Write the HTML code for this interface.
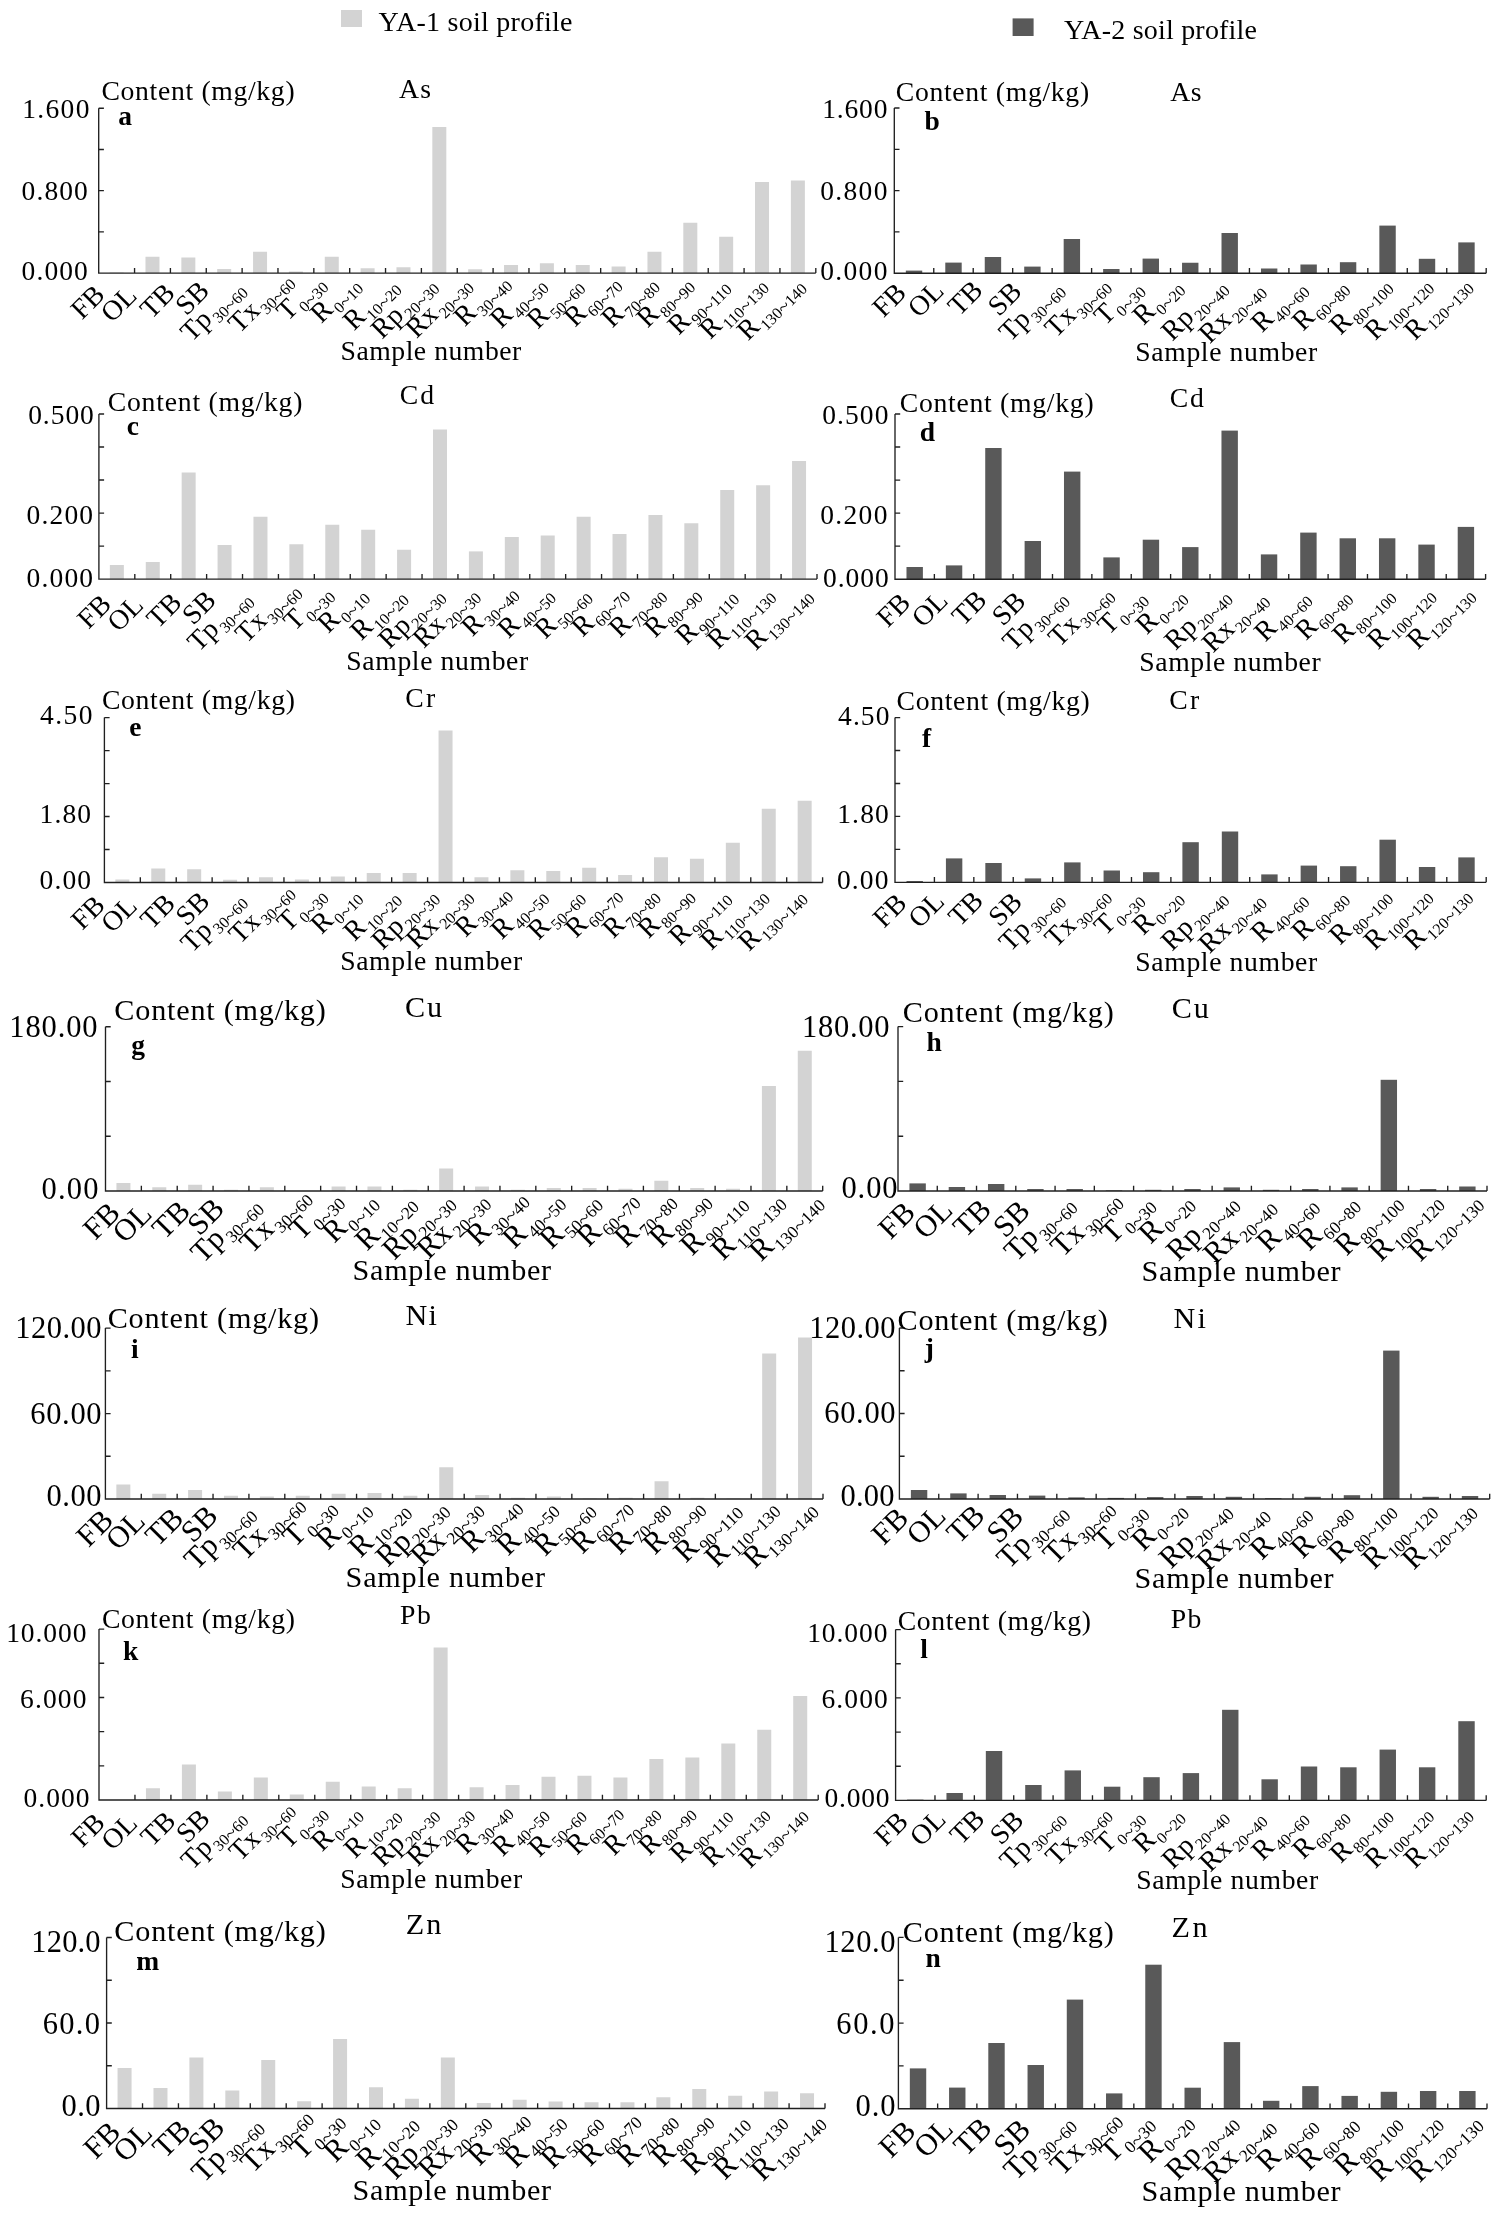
<!DOCTYPE html>
<html><head><meta charset="utf-8"><style>
html,body{margin:0;padding:0;background:#fff;}
svg{display:block;will-change:transform;}
text{font-family:"Liberation Serif", serif;fill:#000;}
</style></head><body>
<svg width="1499" height="2218" viewBox="0 0 1499 2218">
<rect width="1499" height="2218" fill="#fff"/>
<rect x="341" y="10" width="21" height="17" fill="#d3d3d3"/>
<text x="378.5" y="31" font-size="28" textLength="194" lengthAdjust="spacing">YA-1 soil profile</text>
<rect x="1012.6" y="18.4" width="21" height="17.6" fill="#595959"/>
<text x="1064" y="39" font-size="28" textLength="193" lengthAdjust="spacing">YA-2 soil profile</text>
<rect x="109.63" y="272.5" width="14" height="0.6" fill="#d3d3d3"/>
<rect x="145.48" y="256.75" width="14" height="16.35" fill="#d3d3d3"/>
<rect x="181.34" y="257.5" width="14" height="15.6" fill="#d3d3d3"/>
<rect x="217.19" y="269" width="14" height="4.1" fill="#d3d3d3"/>
<rect x="253.05" y="251.75" width="14" height="21.35" fill="#d3d3d3"/>
<rect x="288.9" y="271.5" width="14" height="1.6" fill="#d3d3d3"/>
<rect x="324.76" y="256.75" width="14" height="16.35" fill="#d3d3d3"/>
<rect x="360.61" y="268.25" width="14" height="4.85" fill="#d3d3d3"/>
<rect x="396.47" y="267.25" width="14" height="5.85" fill="#d3d3d3"/>
<rect x="432.32" y="127" width="14" height="146.1" fill="#d3d3d3"/>
<rect x="468.18" y="269.25" width="14" height="3.85" fill="#d3d3d3"/>
<rect x="504.03" y="265" width="14" height="8.1" fill="#d3d3d3"/>
<rect x="539.89" y="263.25" width="14" height="9.85" fill="#d3d3d3"/>
<rect x="575.74" y="265" width="14" height="8.1" fill="#d3d3d3"/>
<rect x="611.6" y="266.5" width="14" height="6.6" fill="#d3d3d3"/>
<rect x="647.45" y="251.75" width="14" height="21.35" fill="#d3d3d3"/>
<rect x="683.31" y="222.75" width="14" height="50.35" fill="#d3d3d3"/>
<rect x="719.16" y="236.75" width="14" height="36.35" fill="#d3d3d3"/>
<rect x="755.02" y="182" width="14" height="91.1" fill="#d3d3d3"/>
<rect x="790.87" y="180.5" width="14" height="92.6" fill="#d3d3d3"/>
<path d="M98.7 108.25V273.1H815.8M98.7 273.1h5.2M98.7 231.89h5.2M98.7 190.68h5.2M98.7 149.46h5.2M98.7 108.25h5.2M134.56 273.1v-5.2M170.41 273.1v-5.2M206.26 273.1v-5.2M242.12 273.1v-5.2M277.97 273.1v-5.2M313.83 273.1v-5.2M349.69 273.1v-5.2M385.54 273.1v-5.2M421.39 273.1v-5.2M457.25 273.1v-5.2M493.1 273.1v-5.2M528.96 273.1v-5.2M564.81 273.1v-5.2M600.67 273.1v-5.2M636.52 273.1v-5.2M672.38 273.1v-5.2M708.24 273.1v-5.2M744.09 273.1v-5.2M779.94 273.1v-5.2M815.8 273.1v-5.2" stroke="#202020" stroke-width="1.35" fill="none"/>
<text x="22.18" y="118" font-size="27.5" textLength="67.26" lengthAdjust="spacing">1.600</text>
<text x="21.55" y="200" font-size="27.5" textLength="66.29" lengthAdjust="spacing">0.800</text>
<text x="21.55" y="280" font-size="27.5" textLength="66.29" lengthAdjust="spacing">0.000</text>
<text x="101.46" y="100" font-size="27.7" textLength="193.15" lengthAdjust="spacing">Content (mg/kg)</text>
<text x="398.93" y="98" font-size="27.7" textLength="32.07" lengthAdjust="spacing">As</text>
<text x="118.31" y="125" font-size="27.5" font-weight="bold">a</text>
<text x="340.45" y="359.7" font-size="27.7" textLength="180.9" lengthAdjust="spacing">Sample number</text>
<text class="xl" transform="translate(106.23 296.3) rotate(-45)" text-anchor="end" font-size="28">FB</text>
<text class="xl" transform="translate(138.38 297.1) rotate(-45)" text-anchor="end" font-size="28">OL</text>
<text class="xl" transform="translate(176.54 294.6) rotate(-45)" text-anchor="end" font-size="28">TB</text>
<text class="xl" transform="translate(210.79 292.3) rotate(-45)" text-anchor="end" font-size="28">SB</text>
<text class="xl" transform="translate(244.85 289.5) rotate(-45)" text-anchor="end" font-size="28">Tp<tspan font-size="16" dx="1.8" dy="6">30</tspan><tspan font-size="19.5" dy="1.1">~</tspan><tspan font-size="16" dy="-1.1">60</tspan></text>
<text class="xl" transform="translate(292.7 280.8) rotate(-45)" text-anchor="end" font-size="28">Tx<tspan font-size="16" dx="1.8" dy="6">30</tspan><tspan font-size="19.5" dy="1.1">~</tspan><tspan font-size="16" dy="-1.1">60</tspan></text>
<text class="xl" transform="translate(325.36 284.2) rotate(-45)" text-anchor="end" font-size="28">T<tspan font-size="16" dx="1.8" dy="6">0</tspan><tspan font-size="19.5" dy="1.1">~</tspan><tspan font-size="16" dy="-1.1">30</tspan></text>
<text class="xl" transform="translate(360.11 285.4) rotate(-45)" text-anchor="end" font-size="28">R<tspan font-size="16" dx="1.8" dy="6">0</tspan><tspan font-size="19.5" dy="1.1">~</tspan><tspan font-size="16" dy="-1.1">10</tspan></text>
<text class="xl" transform="translate(398.67 286.8) rotate(-45)" text-anchor="end" font-size="28">R<tspan font-size="16" dx="1.8" dy="6">10</tspan><tspan font-size="19.5" dy="1.1">~</tspan><tspan font-size="16" dy="-1.1">20</tspan></text>
<text class="xl" transform="translate(436.52 285.5) rotate(-45)" text-anchor="end" font-size="28">Rp<tspan font-size="16" dx="1.8" dy="6">20</tspan><tspan font-size="19.5" dy="1.1">~</tspan><tspan font-size="16" dy="-1.1">30</tspan></text>
<text class="xl" transform="translate(470.98 284.8) rotate(-45)" text-anchor="end" font-size="28">Rx<tspan font-size="16" dx="1.8" dy="6">20</tspan><tspan font-size="19.5" dy="1.1">~</tspan><tspan font-size="16" dy="-1.1">30</tspan></text>
<text class="xl" transform="translate(509.43 282.8) rotate(-45)" text-anchor="end" font-size="28">R<tspan font-size="16" dx="1.8" dy="6">30</tspan><tspan font-size="19.5" dy="1.1">~</tspan><tspan font-size="16" dy="-1.1">40</tspan></text>
<text class="xl" transform="translate(545.69 284.9) rotate(-45)" text-anchor="end" font-size="28">R<tspan font-size="16" dx="1.8" dy="6">40</tspan><tspan font-size="19.5" dy="1.1">~</tspan><tspan font-size="16" dy="-1.1">50</tspan></text>
<text class="xl" transform="translate(582.44 285.5) rotate(-45)" text-anchor="end" font-size="28">R<tspan font-size="16" dx="1.8" dy="6">50</tspan><tspan font-size="19.5" dy="1.1">~</tspan><tspan font-size="16" dy="-1.1">60</tspan></text>
<text class="xl" transform="translate(619.7 283.4) rotate(-45)" text-anchor="end" font-size="28">R<tspan font-size="16" dx="1.8" dy="6">60</tspan><tspan font-size="19.5" dy="1.1">~</tspan><tspan font-size="16" dy="-1.1">70</tspan></text>
<text class="xl" transform="translate(656.95 284.1) rotate(-45)" text-anchor="end" font-size="28">R<tspan font-size="16" dx="1.8" dy="6">70</tspan><tspan font-size="19.5" dy="1.1">~</tspan><tspan font-size="16" dy="-1.1">80</tspan></text>
<text class="xl" transform="translate(692.11 284.1) rotate(-45)" text-anchor="end" font-size="28">R<tspan font-size="16" dx="1.8" dy="6">80</tspan><tspan font-size="19.5" dy="1.1">~</tspan><tspan font-size="16" dy="-1.1">90</tspan></text>
<text class="xl" transform="translate(728.66 286.1) rotate(-45)" text-anchor="end" font-size="28">R<tspan font-size="16" dx="1.8" dy="6">90</tspan><tspan font-size="19.5" dy="1.1">~</tspan><tspan font-size="16" dy="-1.1">110</tspan></text>
<text class="xl" transform="translate(765.82 284.8) rotate(-45)" text-anchor="end" font-size="28">R<tspan font-size="16" dx="1.8" dy="6">110</tspan><tspan font-size="19.5" dy="1.1">~</tspan><tspan font-size="16" dy="-1.1">130</tspan></text>
<text class="xl" transform="translate(803.87 285.5) rotate(-45)" text-anchor="end" font-size="28">R<tspan font-size="16" dx="1.8" dy="6">130</tspan><tspan font-size="19.5" dy="1.1">~</tspan><tspan font-size="16" dy="-1.1">140</tspan></text>
<rect x="905.83" y="270.6" width="16.4" height="2.6" fill="#595959"/>
<rect x="945.29" y="262.6" width="16.4" height="10.6" fill="#595959"/>
<rect x="984.75" y="257" width="16.4" height="16.2" fill="#595959"/>
<rect x="1024.21" y="266.6" width="16.4" height="6.6" fill="#595959"/>
<rect x="1063.67" y="239" width="16.4" height="34.2" fill="#595959"/>
<rect x="1103.13" y="269" width="16.4" height="4.2" fill="#595959"/>
<rect x="1142.59" y="258.6" width="16.4" height="14.6" fill="#595959"/>
<rect x="1182.05" y="262.75" width="16.4" height="10.45" fill="#595959"/>
<rect x="1221.51" y="233" width="16.4" height="40.2" fill="#595959"/>
<rect x="1260.97" y="268.5" width="16.4" height="4.7" fill="#595959"/>
<rect x="1300.43" y="264.5" width="16.4" height="8.7" fill="#595959"/>
<rect x="1339.89" y="262.2" width="16.4" height="11" fill="#595959"/>
<rect x="1379.35" y="225.6" width="16.4" height="47.6" fill="#595959"/>
<rect x="1418.81" y="258.8" width="16.4" height="14.4" fill="#595959"/>
<rect x="1458.27" y="242.4" width="16.4" height="30.8" fill="#595959"/>
<path d="M894.3 108V273.2H1486.2M894.3 273.2h5.2M894.3 231.9h5.2M894.3 190.6h5.2M894.3 149.3h5.2M894.3 108h5.2M933.76 273.2v-5.2M973.22 273.2v-5.2M1012.68 273.2v-5.2M1052.14 273.2v-5.2M1091.6 273.2v-5.2M1131.06 273.2v-5.2M1170.52 273.2v-5.2M1209.98 273.2v-5.2M1249.44 273.2v-5.2M1288.9 273.2v-5.2M1328.36 273.2v-5.2M1367.82 273.2v-5.2M1407.28 273.2v-5.2M1446.74 273.2v-5.2M1486.2 273.2v-5.2" stroke="#202020" stroke-width="1.35" fill="none"/>
<text x="822.18" y="118" font-size="27.5" textLength="65.26" lengthAdjust="spacing">1.600</text>
<text x="820.15" y="200" font-size="27.5" textLength="67.29" lengthAdjust="spacing">0.800</text>
<text x="820.15" y="280" font-size="27.5" textLength="67.29" lengthAdjust="spacing">0.000</text>
<text x="895.76" y="100.7" font-size="27.7" textLength="193.35" lengthAdjust="spacing">Content (mg/kg)</text>
<text x="1170.23" y="100.7" font-size="27.7" textLength="31.37" lengthAdjust="spacing">As</text>
<text x="924.55" y="130" font-size="27.5" font-weight="bold">b</text>
<text x="1135.35" y="361" font-size="27.7" textLength="181.9" lengthAdjust="spacing">Sample number</text>
<text class="xl" transform="translate(907.63 294.4) rotate(-45)" text-anchor="end" font-size="28">FB</text>
<text class="xl" transform="translate(945.29 292.3) rotate(-45)" text-anchor="end" font-size="28">OL</text>
<text class="xl" transform="translate(984.25 291.8) rotate(-45)" text-anchor="end" font-size="28">TB</text>
<text class="xl" transform="translate(1023.21 293) rotate(-45)" text-anchor="end" font-size="28">SB</text>
<text class="xl" transform="translate(1063.27 289.3) rotate(-45)" text-anchor="end" font-size="28">Tp<tspan font-size="16" dx="1.8" dy="6">30</tspan><tspan font-size="19.5" dy="1.1">~</tspan><tspan font-size="16" dy="-1.1">60</tspan></text>
<text class="xl" transform="translate(1109.13 285.3) rotate(-45)" text-anchor="end" font-size="28">Tx<tspan font-size="16" dx="1.8" dy="6">30</tspan><tspan font-size="19.5" dy="1.1">~</tspan><tspan font-size="16" dy="-1.1">60</tspan></text>
<text class="xl" transform="translate(1142.79 288.8) rotate(-45)" text-anchor="end" font-size="28">T<tspan font-size="16" dx="1.8" dy="6">0</tspan><tspan font-size="19.5" dy="1.1">~</tspan><tspan font-size="16" dy="-1.1">30</tspan></text>
<text class="xl" transform="translate(1182.35 287.3) rotate(-45)" text-anchor="end" font-size="28">R<tspan font-size="16" dx="1.8" dy="6">0</tspan><tspan font-size="19.5" dy="1.1">~</tspan><tspan font-size="16" dy="-1.1">20</tspan></text>
<text class="xl" transform="translate(1226.71 287.4) rotate(-45)" text-anchor="end" font-size="28">Rp<tspan font-size="16" dx="1.8" dy="6">20</tspan><tspan font-size="19.5" dy="1.1">~</tspan><tspan font-size="16" dy="-1.1">40</tspan></text>
<text class="xl" transform="translate(1264.27 290) rotate(-45)" text-anchor="end" font-size="28">Rx<tspan font-size="16" dx="1.8" dy="6">20</tspan><tspan font-size="19.5" dy="1.1">~</tspan><tspan font-size="16" dy="-1.1">40</tspan></text>
<text class="xl" transform="translate(1306.63 288.8) rotate(-45)" text-anchor="end" font-size="28">R<tspan font-size="16" dx="1.8" dy="6">40</tspan><tspan font-size="19.5" dy="1.1">~</tspan><tspan font-size="16" dy="-1.1">60</tspan></text>
<text class="xl" transform="translate(1347.49 287.3) rotate(-45)" text-anchor="end" font-size="28">R<tspan font-size="16" dx="1.8" dy="6">60</tspan><tspan font-size="19.5" dy="1.1">~</tspan><tspan font-size="16" dy="-1.1">80</tspan></text>
<text class="xl" transform="translate(1390.65 285.7) rotate(-45)" text-anchor="end" font-size="28">R<tspan font-size="16" dx="1.8" dy="6">80</tspan><tspan font-size="19.5" dy="1.1">~</tspan><tspan font-size="16" dy="-1.1">100</tspan></text>
<text class="xl" transform="translate(1431.11 285.3) rotate(-45)" text-anchor="end" font-size="28">R<tspan font-size="16" dx="1.8" dy="6">100</tspan><tspan font-size="19.5" dy="1.1">~</tspan><tspan font-size="16" dy="-1.1">120</tspan></text>
<text class="xl" transform="translate(1470.87 285.3) rotate(-45)" text-anchor="end" font-size="28">R<tspan font-size="16" dx="1.8" dy="6">120</tspan><tspan font-size="19.5" dy="1.1">~</tspan><tspan font-size="16" dy="-1.1">130</tspan></text>
<rect x="109.85" y="565" width="14" height="14.1" fill="#d3d3d3"/>
<rect x="145.76" y="562" width="14" height="17.1" fill="#d3d3d3"/>
<rect x="181.66" y="472.5" width="14" height="106.6" fill="#d3d3d3"/>
<rect x="217.57" y="545" width="14" height="34.1" fill="#d3d3d3"/>
<rect x="253.47" y="516.75" width="14" height="62.35" fill="#d3d3d3"/>
<rect x="289.38" y="544.25" width="14" height="34.85" fill="#d3d3d3"/>
<rect x="325.28" y="524.75" width="14" height="54.35" fill="#d3d3d3"/>
<rect x="361.19" y="529.75" width="14" height="49.35" fill="#d3d3d3"/>
<rect x="397.09" y="549.75" width="14" height="29.35" fill="#d3d3d3"/>
<rect x="433" y="429.5" width="14" height="149.6" fill="#d3d3d3"/>
<rect x="468.9" y="551.4" width="14" height="27.7" fill="#d3d3d3"/>
<rect x="504.81" y="537" width="14" height="42.1" fill="#d3d3d3"/>
<rect x="540.71" y="535.5" width="14" height="43.6" fill="#d3d3d3"/>
<rect x="576.62" y="516.75" width="14" height="62.35" fill="#d3d3d3"/>
<rect x="612.52" y="534" width="14" height="45.1" fill="#d3d3d3"/>
<rect x="648.43" y="515" width="14" height="64.1" fill="#d3d3d3"/>
<rect x="684.33" y="523.25" width="14" height="55.85" fill="#d3d3d3"/>
<rect x="720.24" y="490" width="14" height="89.1" fill="#d3d3d3"/>
<rect x="756.14" y="485.25" width="14" height="93.85" fill="#d3d3d3"/>
<rect x="792.05" y="461" width="14" height="118.1" fill="#d3d3d3"/>
<path d="M98.9 414V579.1H817M98.9 579.1h5.2M98.9 546.08h5.2M98.9 513.06h5.2M98.9 480.04h5.2M98.9 447.02h5.2M98.9 414h5.2M134.81 579.1v-5.2M170.71 579.1v-5.2M206.62 579.1v-5.2M242.52 579.1v-5.2M278.43 579.1v-5.2M314.33 579.1v-5.2M350.24 579.1v-5.2M386.14 579.1v-5.2M422.04 579.1v-5.2M457.95 579.1v-5.2M493.86 579.1v-5.2M529.76 579.1v-5.2M565.66 579.1v-5.2M601.57 579.1v-5.2M637.48 579.1v-5.2M673.38 579.1v-5.2M709.28 579.1v-5.2M745.19 579.1v-5.2M781.1 579.1v-5.2M817 579.1v-5.2" stroke="#202020" stroke-width="1.35" fill="none"/>
<text x="28.15" y="424" font-size="27.5" textLength="65.69" lengthAdjust="spacing">0.500</text>
<text x="26.55" y="524" font-size="27.5" textLength="66.49" lengthAdjust="spacing">0.200</text>
<text x="26.55" y="587" font-size="27.5" textLength="66.49" lengthAdjust="spacing">0.000</text>
<text x="107.76" y="410.7" font-size="27.7" textLength="194.65" lengthAdjust="spacing">Content (mg/kg)</text>
<text x="399.76" y="403.5" font-size="27.7" textLength="34.27" lengthAdjust="spacing">Cd</text>
<text x="126.66" y="434.7" font-size="27.5" font-weight="bold">c</text>
<text x="346.35" y="670" font-size="27.7" textLength="181.9" lengthAdjust="spacing">Sample number</text>
<text class="xl" transform="translate(112.75 605.8) rotate(-45)" text-anchor="end" font-size="28">FB</text>
<text class="xl" transform="translate(144.96 606.6) rotate(-45)" text-anchor="end" font-size="28">OL</text>
<text class="xl" transform="translate(183.16 604.1) rotate(-45)" text-anchor="end" font-size="28">TB</text>
<text class="xl" transform="translate(217.47 601.8) rotate(-45)" text-anchor="end" font-size="28">SB</text>
<text class="xl" transform="translate(251.77 599.5) rotate(-45)" text-anchor="end" font-size="28">Tp<tspan font-size="16" dx="1.8" dy="6">30</tspan><tspan font-size="19.5" dy="1.1">~</tspan><tspan font-size="16" dy="-1.1">60</tspan></text>
<text class="xl" transform="translate(299.68 590.8) rotate(-45)" text-anchor="end" font-size="28">Tx<tspan font-size="16" dx="1.8" dy="6">30</tspan><tspan font-size="19.5" dy="1.1">~</tspan><tspan font-size="16" dy="-1.1">60</tspan></text>
<text class="xl" transform="translate(332.38 594.2) rotate(-45)" text-anchor="end" font-size="28">T<tspan font-size="16" dx="1.8" dy="6">0</tspan><tspan font-size="19.5" dy="1.1">~</tspan><tspan font-size="16" dy="-1.1">30</tspan></text>
<text class="xl" transform="translate(367.19 595.4) rotate(-45)" text-anchor="end" font-size="28">R<tspan font-size="16" dx="1.8" dy="6">0</tspan><tspan font-size="19.5" dy="1.1">~</tspan><tspan font-size="16" dy="-1.1">10</tspan></text>
<text class="xl" transform="translate(405.79 596.8) rotate(-45)" text-anchor="end" font-size="28">R<tspan font-size="16" dx="1.8" dy="6">10</tspan><tspan font-size="19.5" dy="1.1">~</tspan><tspan font-size="16" dy="-1.1">20</tspan></text>
<text class="xl" transform="translate(443.7 595.5) rotate(-45)" text-anchor="end" font-size="28">Rp<tspan font-size="16" dx="1.8" dy="6">20</tspan><tspan font-size="19.5" dy="1.1">~</tspan><tspan font-size="16" dy="-1.1">30</tspan></text>
<text class="xl" transform="translate(478.2 594.8) rotate(-45)" text-anchor="end" font-size="28">Rx<tspan font-size="16" dx="1.8" dy="6">20</tspan><tspan font-size="19.5" dy="1.1">~</tspan><tspan font-size="16" dy="-1.1">30</tspan></text>
<text class="xl" transform="translate(516.71 592.8) rotate(-45)" text-anchor="end" font-size="28">R<tspan font-size="16" dx="1.8" dy="6">30</tspan><tspan font-size="19.5" dy="1.1">~</tspan><tspan font-size="16" dy="-1.1">40</tspan></text>
<text class="xl" transform="translate(553.01 594.9) rotate(-45)" text-anchor="end" font-size="28">R<tspan font-size="16" dx="1.8" dy="6">40</tspan><tspan font-size="19.5" dy="1.1">~</tspan><tspan font-size="16" dy="-1.1">50</tspan></text>
<text class="xl" transform="translate(589.82 595.5) rotate(-45)" text-anchor="end" font-size="28">R<tspan font-size="16" dx="1.8" dy="6">50</tspan><tspan font-size="19.5" dy="1.1">~</tspan><tspan font-size="16" dy="-1.1">60</tspan></text>
<text class="xl" transform="translate(627.12 593.4) rotate(-45)" text-anchor="end" font-size="28">R<tspan font-size="16" dx="1.8" dy="6">60</tspan><tspan font-size="19.5" dy="1.1">~</tspan><tspan font-size="16" dy="-1.1">70</tspan></text>
<text class="xl" transform="translate(664.43 594.1) rotate(-45)" text-anchor="end" font-size="28">R<tspan font-size="16" dx="1.8" dy="6">70</tspan><tspan font-size="19.5" dy="1.1">~</tspan><tspan font-size="16" dy="-1.1">80</tspan></text>
<text class="xl" transform="translate(699.63 594.1) rotate(-45)" text-anchor="end" font-size="28">R<tspan font-size="16" dx="1.8" dy="6">80</tspan><tspan font-size="19.5" dy="1.1">~</tspan><tspan font-size="16" dy="-1.1">90</tspan></text>
<text class="xl" transform="translate(736.24 596.1) rotate(-45)" text-anchor="end" font-size="28">R<tspan font-size="16" dx="1.8" dy="6">90</tspan><tspan font-size="19.5" dy="1.1">~</tspan><tspan font-size="16" dy="-1.1">110</tspan></text>
<text class="xl" transform="translate(773.44 594.8) rotate(-45)" text-anchor="end" font-size="28">R<tspan font-size="16" dx="1.8" dy="6">110</tspan><tspan font-size="19.5" dy="1.1">~</tspan><tspan font-size="16" dy="-1.1">130</tspan></text>
<text class="xl" transform="translate(811.55 595.5) rotate(-45)" text-anchor="end" font-size="28">R<tspan font-size="16" dx="1.8" dy="6">130</tspan><tspan font-size="19.5" dy="1.1">~</tspan><tspan font-size="16" dy="-1.1">140</tspan></text>
<rect x="906.49" y="567" width="16.4" height="12.2" fill="#595959"/>
<rect x="945.86" y="565.4" width="16.4" height="13.8" fill="#595959"/>
<rect x="985.23" y="448" width="16.4" height="131.2" fill="#595959"/>
<rect x="1024.61" y="541" width="16.4" height="38.2" fill="#595959"/>
<rect x="1063.98" y="471.6" width="16.4" height="107.6" fill="#595959"/>
<rect x="1103.35" y="557.4" width="16.4" height="21.8" fill="#595959"/>
<rect x="1142.73" y="539.7" width="16.4" height="39.5" fill="#595959"/>
<rect x="1182.1" y="547.1" width="16.4" height="32.1" fill="#595959"/>
<rect x="1221.47" y="430.6" width="16.4" height="148.6" fill="#595959"/>
<rect x="1260.85" y="554.4" width="16.4" height="24.8" fill="#595959"/>
<rect x="1300.22" y="532.6" width="16.4" height="46.6" fill="#595959"/>
<rect x="1339.59" y="538.3" width="16.4" height="40.9" fill="#595959"/>
<rect x="1378.97" y="538.3" width="16.4" height="40.9" fill="#595959"/>
<rect x="1418.34" y="544.6" width="16.4" height="34.6" fill="#595959"/>
<rect x="1457.71" y="526.9" width="16.4" height="52.3" fill="#595959"/>
<path d="M895 414V579.2H1485.6M895 579.2h5.2M895 546.16h5.2M895 513.12h5.2M895 480.08h5.2M895 447.04h5.2M895 414h5.2M934.37 579.2v-5.2M973.75 579.2v-5.2M1013.12 579.2v-5.2M1052.49 579.2v-5.2M1091.87 579.2v-5.2M1131.24 579.2v-5.2M1170.61 579.2v-5.2M1209.99 579.2v-5.2M1249.36 579.2v-5.2M1288.73 579.2v-5.2M1328.11 579.2v-5.2M1367.48 579.2v-5.2M1406.85 579.2v-5.2M1446.23 579.2v-5.2M1485.6 579.2v-5.2" stroke="#202020" stroke-width="1.35" fill="none"/>
<text x="822.15" y="424" font-size="27.5" textLength="66.29" lengthAdjust="spacing">0.500</text>
<text x="820.15" y="524" font-size="27.5" textLength="67.29" lengthAdjust="spacing">0.200</text>
<text x="822.95" y="587" font-size="27.5" textLength="65.89" lengthAdjust="spacing">0.000</text>
<text x="899.76" y="412" font-size="27.7" textLength="193.85" lengthAdjust="spacing">Content (mg/kg)</text>
<text x="1169.66" y="406.7" font-size="27.7" textLength="34.27" lengthAdjust="spacing">Cd</text>
<text x="919.79" y="440.8" font-size="27.5" font-weight="bold">d</text>
<text x="1139.35" y="671" font-size="27.7" textLength="181.3" lengthAdjust="spacing">Sample number</text>
<text class="xl" transform="translate(911.89 604.2) rotate(-45)" text-anchor="end" font-size="28">FB</text>
<text class="xl" transform="translate(949.46 602.1) rotate(-45)" text-anchor="end" font-size="28">OL</text>
<text class="xl" transform="translate(988.33 601.6) rotate(-45)" text-anchor="end" font-size="28">TB</text>
<text class="xl" transform="translate(1027.21 602.8) rotate(-45)" text-anchor="end" font-size="28">SB</text>
<text class="xl" transform="translate(1066.88 598.6) rotate(-45)" text-anchor="end" font-size="28">Tp<tspan font-size="16" dx="1.8" dy="6">30</tspan><tspan font-size="19.5" dy="1.1">~</tspan><tspan font-size="16" dy="-1.1">60</tspan></text>
<text class="xl" transform="translate(1112.65 594.6) rotate(-45)" text-anchor="end" font-size="28">Tx<tspan font-size="16" dx="1.8" dy="6">30</tspan><tspan font-size="19.5" dy="1.1">~</tspan><tspan font-size="16" dy="-1.1">60</tspan></text>
<text class="xl" transform="translate(1146.23 598.1) rotate(-45)" text-anchor="end" font-size="28">T<tspan font-size="16" dx="1.8" dy="6">0</tspan><tspan font-size="19.5" dy="1.1">~</tspan><tspan font-size="16" dy="-1.1">30</tspan></text>
<text class="xl" transform="translate(1185.7 596.6) rotate(-45)" text-anchor="end" font-size="28">R<tspan font-size="16" dx="1.8" dy="6">0</tspan><tspan font-size="19.5" dy="1.1">~</tspan><tspan font-size="16" dy="-1.1">20</tspan></text>
<text class="xl" transform="translate(1229.97 596.7) rotate(-45)" text-anchor="end" font-size="28">Rp<tspan font-size="16" dx="1.8" dy="6">20</tspan><tspan font-size="19.5" dy="1.1">~</tspan><tspan font-size="16" dy="-1.1">40</tspan></text>
<text class="xl" transform="translate(1267.45 599.3) rotate(-45)" text-anchor="end" font-size="28">Rx<tspan font-size="16" dx="1.8" dy="6">20</tspan><tspan font-size="19.5" dy="1.1">~</tspan><tspan font-size="16" dy="-1.1">40</tspan></text>
<text class="xl" transform="translate(1309.72 598.1) rotate(-45)" text-anchor="end" font-size="28">R<tspan font-size="16" dx="1.8" dy="6">40</tspan><tspan font-size="19.5" dy="1.1">~</tspan><tspan font-size="16" dy="-1.1">60</tspan></text>
<text class="xl" transform="translate(1350.49 596.6) rotate(-45)" text-anchor="end" font-size="28">R<tspan font-size="16" dx="1.8" dy="6">60</tspan><tspan font-size="19.5" dy="1.1">~</tspan><tspan font-size="16" dy="-1.1">80</tspan></text>
<text class="xl" transform="translate(1393.57 595) rotate(-45)" text-anchor="end" font-size="28">R<tspan font-size="16" dx="1.8" dy="6">80</tspan><tspan font-size="19.5" dy="1.1">~</tspan><tspan font-size="16" dy="-1.1">100</tspan></text>
<text class="xl" transform="translate(1433.94 594.6) rotate(-45)" text-anchor="end" font-size="28">R<tspan font-size="16" dx="1.8" dy="6">100</tspan><tspan font-size="19.5" dy="1.1">~</tspan><tspan font-size="16" dy="-1.1">120</tspan></text>
<text class="xl" transform="translate(1473.61 594.6) rotate(-45)" text-anchor="end" font-size="28">R<tspan font-size="16" dx="1.8" dy="6">120</tspan><tspan font-size="19.5" dy="1.1">~</tspan><tspan font-size="16" dy="-1.1">130</tspan></text>
<rect x="115.36" y="879.5" width="14" height="3" fill="#d3d3d3"/>
<rect x="151.27" y="868.5" width="14" height="14" fill="#d3d3d3"/>
<rect x="187.18" y="869.25" width="14" height="13.25" fill="#d3d3d3"/>
<rect x="223.09" y="879.75" width="14" height="2.75" fill="#d3d3d3"/>
<rect x="259" y="877.25" width="14" height="5.25" fill="#d3d3d3"/>
<rect x="294.91" y="879.5" width="14" height="3" fill="#d3d3d3"/>
<rect x="330.82" y="876.5" width="14" height="6" fill="#d3d3d3"/>
<rect x="366.73" y="873" width="14" height="9.5" fill="#d3d3d3"/>
<rect x="402.63" y="873" width="14" height="9.5" fill="#d3d3d3"/>
<rect x="438.55" y="730.5" width="14" height="152" fill="#d3d3d3"/>
<rect x="474.46" y="877.25" width="14" height="5.25" fill="#d3d3d3"/>
<rect x="510.37" y="870.25" width="14" height="12.25" fill="#d3d3d3"/>
<rect x="546.28" y="871" width="14" height="11.5" fill="#d3d3d3"/>
<rect x="582.19" y="867.75" width="14" height="14.75" fill="#d3d3d3"/>
<rect x="618.1" y="875" width="14" height="7.5" fill="#d3d3d3"/>
<rect x="654" y="857.25" width="14" height="25.25" fill="#d3d3d3"/>
<rect x="689.92" y="858.75" width="14" height="23.75" fill="#d3d3d3"/>
<rect x="725.83" y="842.75" width="14" height="39.75" fill="#d3d3d3"/>
<rect x="761.74" y="808.75" width="14" height="73.75" fill="#d3d3d3"/>
<rect x="797.65" y="800.75" width="14" height="81.75" fill="#d3d3d3"/>
<path d="M104.4 717.6V882.5H822.6M104.4 882.5h5.2M104.4 849.52h5.2M104.4 816.54h5.2M104.4 783.56h5.2M104.4 750.58h5.2M104.4 717.6h5.2M140.31 882.5v-5.2M176.22 882.5v-5.2M212.13 882.5v-5.2M248.04 882.5v-5.2M283.95 882.5v-5.2M319.86 882.5v-5.2M355.77 882.5v-5.2M391.68 882.5v-5.2M427.59 882.5v-5.2M463.5 882.5v-5.2M499.41 882.5v-5.2M535.32 882.5v-5.2M571.23 882.5v-5.2M607.14 882.5v-5.2M643.05 882.5v-5.2M678.96 882.5v-5.2M714.87 882.5v-5.2M750.78 882.5v-5.2M786.69 882.5v-5.2M822.6 882.5v-5.2" stroke="#202020" stroke-width="1.35" fill="none"/>
<text x="40.06" y="724.4" font-size="27.5" textLength="52.38" lengthAdjust="spacing">4.50</text>
<text x="39.58" y="823" font-size="27.5" textLength="51.46" lengthAdjust="spacing">1.80</text>
<text x="39.55" y="889" font-size="27.5" textLength="51.49" lengthAdjust="spacing">0.00</text>
<text x="101.96" y="708.8" font-size="27.7" textLength="192.95" lengthAdjust="spacing">Content (mg/kg)</text>
<text x="405.16" y="706.7" font-size="27.7" textLength="30.18" lengthAdjust="spacing">Cr</text>
<text x="129.36" y="736" font-size="27.5" font-weight="bold">e</text>
<text x="340.15" y="970" font-size="27.7" textLength="182.1" lengthAdjust="spacing">Sample number</text>
<text class="xl" transform="translate(106.36 906.8) rotate(-45)" text-anchor="end" font-size="28">FB</text>
<text class="xl" transform="translate(138.57 907.6) rotate(-45)" text-anchor="end" font-size="28">OL</text>
<text class="xl" transform="translate(176.78 905.1) rotate(-45)" text-anchor="end" font-size="28">TB</text>
<text class="xl" transform="translate(211.09 902.8) rotate(-45)" text-anchor="end" font-size="28">SB</text>
<text class="xl" transform="translate(245.1 900.4) rotate(-45)" text-anchor="end" font-size="28">Tp<tspan font-size="16" dx="1.8" dy="6">30</tspan><tspan font-size="19.5" dy="1.1">~</tspan><tspan font-size="16" dy="-1.1">60</tspan></text>
<text class="xl" transform="translate(293.01 891.7) rotate(-45)" text-anchor="end" font-size="28">Tx<tspan font-size="16" dx="1.8" dy="6">30</tspan><tspan font-size="19.5" dy="1.1">~</tspan><tspan font-size="16" dy="-1.1">60</tspan></text>
<text class="xl" transform="translate(325.72 895.1) rotate(-45)" text-anchor="end" font-size="28">T<tspan font-size="16" dx="1.8" dy="6">0</tspan><tspan font-size="19.5" dy="1.1">~</tspan><tspan font-size="16" dy="-1.1">30</tspan></text>
<text class="xl" transform="translate(360.53 896.3) rotate(-45)" text-anchor="end" font-size="28">R<tspan font-size="16" dx="1.8" dy="6">0</tspan><tspan font-size="19.5" dy="1.1">~</tspan><tspan font-size="16" dy="-1.1">10</tspan></text>
<text class="xl" transform="translate(399.13 897.7) rotate(-45)" text-anchor="end" font-size="28">R<tspan font-size="16" dx="1.8" dy="6">10</tspan><tspan font-size="19.5" dy="1.1">~</tspan><tspan font-size="16" dy="-1.1">20</tspan></text>
<text class="xl" transform="translate(437.05 896.4) rotate(-45)" text-anchor="end" font-size="28">Rp<tspan font-size="16" dx="1.8" dy="6">20</tspan><tspan font-size="19.5" dy="1.1">~</tspan><tspan font-size="16" dy="-1.1">30</tspan></text>
<text class="xl" transform="translate(471.56 895.7) rotate(-45)" text-anchor="end" font-size="28">Rx<tspan font-size="16" dx="1.8" dy="6">20</tspan><tspan font-size="19.5" dy="1.1">~</tspan><tspan font-size="16" dy="-1.1">30</tspan></text>
<text class="xl" transform="translate(510.06 893.7) rotate(-45)" text-anchor="end" font-size="28">R<tspan font-size="16" dx="1.8" dy="6">30</tspan><tspan font-size="19.5" dy="1.1">~</tspan><tspan font-size="16" dy="-1.1">40</tspan></text>
<text class="xl" transform="translate(546.38 895.8) rotate(-45)" text-anchor="end" font-size="28">R<tspan font-size="16" dx="1.8" dy="6">40</tspan><tspan font-size="19.5" dy="1.1">~</tspan><tspan font-size="16" dy="-1.1">50</tspan></text>
<text class="xl" transform="translate(583.19 896.4) rotate(-45)" text-anchor="end" font-size="28">R<tspan font-size="16" dx="1.8" dy="6">50</tspan><tspan font-size="19.5" dy="1.1">~</tspan><tspan font-size="16" dy="-1.1">60</tspan></text>
<text class="xl" transform="translate(620.5 894.3) rotate(-45)" text-anchor="end" font-size="28">R<tspan font-size="16" dx="1.8" dy="6">60</tspan><tspan font-size="19.5" dy="1.1">~</tspan><tspan font-size="16" dy="-1.1">70</tspan></text>
<text class="xl" transform="translate(657.8 895) rotate(-45)" text-anchor="end" font-size="28">R<tspan font-size="16" dx="1.8" dy="6">70</tspan><tspan font-size="19.5" dy="1.1">~</tspan><tspan font-size="16" dy="-1.1">80</tspan></text>
<text class="xl" transform="translate(693.01 895) rotate(-45)" text-anchor="end" font-size="28">R<tspan font-size="16" dx="1.8" dy="6">80</tspan><tspan font-size="19.5" dy="1.1">~</tspan><tspan font-size="16" dy="-1.1">90</tspan></text>
<text class="xl" transform="translate(729.62 897) rotate(-45)" text-anchor="end" font-size="28">R<tspan font-size="16" dx="1.8" dy="6">90</tspan><tspan font-size="19.5" dy="1.1">~</tspan><tspan font-size="16" dy="-1.1">110</tspan></text>
<text class="xl" transform="translate(766.83 895.7) rotate(-45)" text-anchor="end" font-size="28">R<tspan font-size="16" dx="1.8" dy="6">110</tspan><tspan font-size="19.5" dy="1.1">~</tspan><tspan font-size="16" dy="-1.1">130</tspan></text>
<text class="xl" transform="translate(804.95 896.4) rotate(-45)" text-anchor="end" font-size="28">R<tspan font-size="16" dx="1.8" dy="6">130</tspan><tspan font-size="19.5" dy="1.1">~</tspan><tspan font-size="16" dy="-1.1">140</tspan></text>
<rect x="906.51" y="881" width="16.4" height="1.3" fill="#595959"/>
<rect x="945.92" y="858.4" width="16.4" height="23.9" fill="#595959"/>
<rect x="985.33" y="863" width="16.4" height="19.3" fill="#595959"/>
<rect x="1024.75" y="878.4" width="16.4" height="3.9" fill="#595959"/>
<rect x="1064.16" y="862.4" width="16.4" height="19.9" fill="#595959"/>
<rect x="1103.57" y="870.5" width="16.4" height="11.8" fill="#595959"/>
<rect x="1142.99" y="872.2" width="16.4" height="10.1" fill="#595959"/>
<rect x="1182.4" y="842.2" width="16.4" height="40.1" fill="#595959"/>
<rect x="1221.81" y="831.5" width="16.4" height="50.8" fill="#595959"/>
<rect x="1261.23" y="874.4" width="16.4" height="7.9" fill="#595959"/>
<rect x="1300.64" y="865.6" width="16.4" height="16.7" fill="#595959"/>
<rect x="1340.05" y="866.2" width="16.4" height="16.1" fill="#595959"/>
<rect x="1379.47" y="839.7" width="16.4" height="42.6" fill="#595959"/>
<rect x="1418.88" y="867" width="16.4" height="15.3" fill="#595959"/>
<rect x="1458.29" y="857.4" width="16.4" height="24.9" fill="#595959"/>
<path d="M895 717.6V882.3H1486.2M895 882.3h5.2M895 849.36h5.2M895 816.42h5.2M895 783.48h5.2M895 750.54h5.2M895 717.6h5.2M934.41 882.3v-5.2M973.83 882.3v-5.2M1013.24 882.3v-5.2M1052.65 882.3v-5.2M1092.07 882.3v-5.2M1131.48 882.3v-5.2M1170.89 882.3v-5.2M1210.31 882.3v-5.2M1249.72 882.3v-5.2M1289.13 882.3v-5.2M1328.55 882.3v-5.2M1367.96 882.3v-5.2M1407.37 882.3v-5.2M1446.79 882.3v-5.2M1486.2 882.3v-5.2" stroke="#202020" stroke-width="1.35" fill="none"/>
<text x="838.06" y="725" font-size="27.5" textLength="51.38" lengthAdjust="spacing">4.50</text>
<text x="837.18" y="823" font-size="27.5" textLength="51.66" lengthAdjust="spacing">1.80</text>
<text x="836.95" y="889" font-size="27.5" textLength="51.49" lengthAdjust="spacing">0.00</text>
<text x="896.56" y="709.9" font-size="27.7" textLength="193.05" lengthAdjust="spacing">Content (mg/kg)</text>
<text x="1169.16" y="709.3" font-size="27.7" textLength="30.18" lengthAdjust="spacing">Cr</text>
<text x="922.1" y="746.7" font-size="27.5" font-weight="bold">f</text>
<text x="1135.35" y="971" font-size="27.7" textLength="181.9" lengthAdjust="spacing">Sample number</text>
<text class="xl" transform="translate(908.21 904.9) rotate(-45)" text-anchor="end" font-size="28">FB</text>
<text class="xl" transform="translate(945.82 902.8) rotate(-45)" text-anchor="end" font-size="28">OL</text>
<text class="xl" transform="translate(984.73 902.3) rotate(-45)" text-anchor="end" font-size="28">TB</text>
<text class="xl" transform="translate(1023.65 903.5) rotate(-45)" text-anchor="end" font-size="28">SB</text>
<text class="xl" transform="translate(1063.26 899.4) rotate(-45)" text-anchor="end" font-size="28">Tp<tspan font-size="16" dx="1.8" dy="6">30</tspan><tspan font-size="19.5" dy="1.1">~</tspan><tspan font-size="16" dy="-1.1">60</tspan></text>
<text class="xl" transform="translate(1109.07 895.4) rotate(-45)" text-anchor="end" font-size="28">Tx<tspan font-size="16" dx="1.8" dy="6">30</tspan><tspan font-size="19.5" dy="1.1">~</tspan><tspan font-size="16" dy="-1.1">60</tspan></text>
<text class="xl" transform="translate(1142.69 898.9) rotate(-45)" text-anchor="end" font-size="28">T<tspan font-size="16" dx="1.8" dy="6">0</tspan><tspan font-size="19.5" dy="1.1">~</tspan><tspan font-size="16" dy="-1.1">30</tspan></text>
<text class="xl" transform="translate(1182.2 897.4) rotate(-45)" text-anchor="end" font-size="28">R<tspan font-size="16" dx="1.8" dy="6">0</tspan><tspan font-size="19.5" dy="1.1">~</tspan><tspan font-size="16" dy="-1.1">20</tspan></text>
<text class="xl" transform="translate(1226.51 897.5) rotate(-45)" text-anchor="end" font-size="28">Rp<tspan font-size="16" dx="1.8" dy="6">20</tspan><tspan font-size="19.5" dy="1.1">~</tspan><tspan font-size="16" dy="-1.1">40</tspan></text>
<text class="xl" transform="translate(1264.03 900.1) rotate(-45)" text-anchor="end" font-size="28">Rx<tspan font-size="16" dx="1.8" dy="6">20</tspan><tspan font-size="19.5" dy="1.1">~</tspan><tspan font-size="16" dy="-1.1">40</tspan></text>
<text class="xl" transform="translate(1306.34 898.9) rotate(-45)" text-anchor="end" font-size="28">R<tspan font-size="16" dx="1.8" dy="6">40</tspan><tspan font-size="19.5" dy="1.1">~</tspan><tspan font-size="16" dy="-1.1">60</tspan></text>
<text class="xl" transform="translate(1347.15 897.4) rotate(-45)" text-anchor="end" font-size="28">R<tspan font-size="16" dx="1.8" dy="6">60</tspan><tspan font-size="19.5" dy="1.1">~</tspan><tspan font-size="16" dy="-1.1">80</tspan></text>
<text class="xl" transform="translate(1390.27 895.8) rotate(-45)" text-anchor="end" font-size="28">R<tspan font-size="16" dx="1.8" dy="6">80</tspan><tspan font-size="19.5" dy="1.1">~</tspan><tspan font-size="16" dy="-1.1">100</tspan></text>
<text class="xl" transform="translate(1430.68 895.4) rotate(-45)" text-anchor="end" font-size="28">R<tspan font-size="16" dx="1.8" dy="6">100</tspan><tspan font-size="19.5" dy="1.1">~</tspan><tspan font-size="16" dy="-1.1">120</tspan></text>
<text class="xl" transform="translate(1470.39 895.4) rotate(-45)" text-anchor="end" font-size="28">R<tspan font-size="16" dx="1.8" dy="6">120</tspan><tspan font-size="19.5" dy="1.1">~</tspan><tspan font-size="16" dy="-1.1">130</tspan></text>
<rect x="116.43" y="1183" width="14" height="8" fill="#d3d3d3"/>
<rect x="152.29" y="1187.25" width="14" height="3.75" fill="#d3d3d3"/>
<rect x="188.15" y="1184.75" width="14" height="6.25" fill="#d3d3d3"/>
<rect x="224.01" y="1189.75" width="14" height="1.25" fill="#d3d3d3"/>
<rect x="259.87" y="1187.25" width="14" height="3.75" fill="#d3d3d3"/>
<rect x="331.59" y="1186.5" width="14" height="4.5" fill="#d3d3d3"/>
<rect x="367.45" y="1186.5" width="14" height="4.5" fill="#d3d3d3"/>
<rect x="403.31" y="1189.75" width="14" height="1.25" fill="#d3d3d3"/>
<rect x="439.17" y="1168.5" width="14" height="22.5" fill="#d3d3d3"/>
<rect x="475.03" y="1186.5" width="14" height="4.5" fill="#d3d3d3"/>
<rect x="510.89" y="1189.75" width="14" height="1.25" fill="#d3d3d3"/>
<rect x="546.75" y="1188" width="14" height="3" fill="#d3d3d3"/>
<rect x="582.61" y="1188" width="14" height="3" fill="#d3d3d3"/>
<rect x="618.47" y="1188.75" width="14" height="2.25" fill="#d3d3d3"/>
<rect x="654.33" y="1180.75" width="14" height="10.25" fill="#d3d3d3"/>
<rect x="690.19" y="1188" width="14" height="3" fill="#d3d3d3"/>
<rect x="726.05" y="1188.75" width="14" height="2.25" fill="#d3d3d3"/>
<rect x="761.91" y="1086" width="14" height="105" fill="#d3d3d3"/>
<rect x="797.77" y="1050.75" width="14" height="140.25" fill="#d3d3d3"/>
<path d="M105.5 1026.7V1191H822.7M105.5 1191h5.2M105.5 1136.23h5.2M105.5 1081.47h5.2M105.5 1026.7h5.2M141.36 1191v-5.2M177.22 1191v-5.2M213.08 1191v-5.2M248.94 1191v-5.2M284.8 1191v-5.2M320.66 1191v-5.2M356.52 1191v-5.2M392.38 1191v-5.2M428.24 1191v-5.2M464.1 1191v-5.2M499.96 1191v-5.2M535.82 1191v-5.2M571.68 1191v-5.2M607.54 1191v-5.2M643.4 1191v-5.2M679.26 1191v-5.2M715.12 1191v-5.2M750.98 1191v-5.2M786.84 1191v-5.2M822.7 1191v-5.2" stroke="#202020" stroke-width="1.35" fill="none"/>
<text x="9.32" y="1037" font-size="30.5" textLength="88.24" lengthAdjust="spacing">180.00</text>
<text x="41.44" y="1199" font-size="30.5" textLength="57.12" lengthAdjust="spacing">0.00</text>
<text x="114.36" y="1019.9" font-size="30.19" textLength="211.37" lengthAdjust="spacing">Content (mg/kg)</text>
<text x="405.06" y="1016.7" font-size="30.19" textLength="37.15" lengthAdjust="spacing">Cu</text>
<text x="131.17" y="1054.3" font-size="27.5" font-weight="bold">g</text>
<text x="352.58" y="1280" font-size="30.19" textLength="198.49" lengthAdjust="spacing">Sample number</text>
<text class="xl" transform="translate(121.59 1214.69) rotate(-45)" text-anchor="end" font-size="30.52">FB</text>
<text class="xl" transform="translate(153.42 1215.56) rotate(-45)" text-anchor="end" font-size="30.52">OL</text>
<text class="xl" transform="translate(191.79 1212.84) rotate(-45)" text-anchor="end" font-size="30.52">TB</text>
<text class="xl" transform="translate(225.9 1210.33) rotate(-45)" text-anchor="end" font-size="30.52">SB</text>
<text class="xl" transform="translate(260.8 1206.08) rotate(-45)" text-anchor="end" font-size="30.52">Tp<tspan font-size="17.44" dx="1.96" dy="6.54">30</tspan><tspan font-size="21.26" dy="1.2">~</tspan><tspan font-size="17.44" dy="-1.2">60</tspan></text>
<text class="xl" transform="translate(309.74 1196.59) rotate(-45)" text-anchor="end" font-size="30.52">Tx<tspan font-size="17.44" dx="1.96" dy="6.54">30</tspan><tspan font-size="21.26" dy="1.2">~</tspan><tspan font-size="17.44" dy="-1.2">60</tspan></text>
<text class="xl" transform="translate(342.11 1200.3) rotate(-45)" text-anchor="end" font-size="30.52">T<tspan font-size="17.44" dx="1.96" dy="6.54">0</tspan><tspan font-size="21.26" dy="1.2">~</tspan><tspan font-size="17.44" dy="-1.2">30</tspan></text>
<text class="xl" transform="translate(376.77 1201.61) rotate(-45)" text-anchor="end" font-size="30.52">R<tspan font-size="17.44" dx="1.96" dy="6.54">0</tspan><tspan font-size="21.26" dy="1.2">~</tspan><tspan font-size="17.44" dy="-1.2">10</tspan></text>
<text class="xl" transform="translate(415.58 1203.13) rotate(-45)" text-anchor="end" font-size="30.52">R<tspan font-size="17.44" dx="1.96" dy="6.54">10</tspan><tspan font-size="21.26" dy="1.2">~</tspan><tspan font-size="17.44" dy="-1.2">20</tspan></text>
<text class="xl" transform="translate(453.62 1201.72) rotate(-45)" text-anchor="end" font-size="30.52">Rp<tspan font-size="17.44" dx="1.96" dy="6.54">20</tspan><tspan font-size="21.26" dy="1.2">~</tspan><tspan font-size="17.44" dy="-1.2">30</tspan></text>
<text class="xl" transform="translate(487.95 1200.95) rotate(-45)" text-anchor="end" font-size="30.52">Rx<tspan font-size="17.44" dx="1.96" dy="6.54">20</tspan><tspan font-size="21.26" dy="1.2">~</tspan><tspan font-size="17.44" dy="-1.2">30</tspan></text>
<text class="xl" transform="translate(526.65 1198.77) rotate(-45)" text-anchor="end" font-size="30.52">R<tspan font-size="17.44" dx="1.96" dy="6.54">30</tspan><tspan font-size="21.26" dy="1.2">~</tspan><tspan font-size="17.44" dy="-1.2">40</tspan></text>
<text class="xl" transform="translate(562.94 1201.06) rotate(-45)" text-anchor="end" font-size="30.52">R<tspan font-size="17.44" dx="1.96" dy="6.54">40</tspan><tspan font-size="21.26" dy="1.2">~</tspan><tspan font-size="17.44" dy="-1.2">50</tspan></text>
<text class="xl" transform="translate(599.78 1201.72) rotate(-45)" text-anchor="end" font-size="30.52">R<tspan font-size="17.44" dx="1.96" dy="6.54">50</tspan><tspan font-size="21.26" dy="1.2">~</tspan><tspan font-size="17.44" dy="-1.2">60</tspan></text>
<text class="xl" transform="translate(637.17 1199.43) rotate(-45)" text-anchor="end" font-size="30.52">R<tspan font-size="17.44" dx="1.96" dy="6.54">60</tspan><tspan font-size="21.26" dy="1.2">~</tspan><tspan font-size="17.44" dy="-1.2">70</tspan></text>
<text class="xl" transform="translate(674.56 1200.19) rotate(-45)" text-anchor="end" font-size="30.52">R<tspan font-size="17.44" dx="1.96" dy="6.54">70</tspan><tspan font-size="21.26" dy="1.2">~</tspan><tspan font-size="17.44" dy="-1.2">80</tspan></text>
<text class="xl" transform="translate(709.65 1200.19) rotate(-45)" text-anchor="end" font-size="30.52">R<tspan font-size="17.44" dx="1.96" dy="6.54">80</tspan><tspan font-size="21.26" dy="1.2">~</tspan><tspan font-size="17.44" dy="-1.2">90</tspan></text>
<text class="xl" transform="translate(746.27 1202.37) rotate(-45)" text-anchor="end" font-size="30.52">R<tspan font-size="17.44" dx="1.96" dy="6.54">90</tspan><tspan font-size="21.26" dy="1.2">~</tspan><tspan font-size="17.44" dy="-1.2">110</tspan></text>
<text class="xl" transform="translate(783.55 1200.95) rotate(-45)" text-anchor="end" font-size="30.52">R<tspan font-size="17.44" dx="1.96" dy="6.54">110</tspan><tspan font-size="21.26" dy="1.2">~</tspan><tspan font-size="17.44" dy="-1.2">130</tspan></text>
<text class="xl" transform="translate(821.81 1201.72) rotate(-45)" text-anchor="end" font-size="30.52">R<tspan font-size="17.44" dx="1.96" dy="6.54">130</tspan><tspan font-size="21.26" dy="1.2">~</tspan><tspan font-size="17.44" dy="-1.2">140</tspan></text>
<rect x="909.43" y="1183.4" width="16.4" height="7.6" fill="#595959"/>
<rect x="948.7" y="1187" width="16.4" height="4" fill="#595959"/>
<rect x="987.97" y="1184" width="16.4" height="7" fill="#595959"/>
<rect x="1027.23" y="1189" width="16.4" height="2" fill="#595959"/>
<rect x="1066.5" y="1189" width="16.4" height="2" fill="#595959"/>
<rect x="1105.77" y="1190.4" width="16.4" height="0.6" fill="#595959"/>
<rect x="1145.03" y="1189.8" width="16.4" height="1.2" fill="#595959"/>
<rect x="1184.3" y="1189" width="16.4" height="2" fill="#595959"/>
<rect x="1223.57" y="1187.4" width="16.4" height="3.6" fill="#595959"/>
<rect x="1262.83" y="1189.8" width="16.4" height="1.2" fill="#595959"/>
<rect x="1302.1" y="1189" width="16.4" height="2" fill="#595959"/>
<rect x="1341.37" y="1187.4" width="16.4" height="3.6" fill="#595959"/>
<rect x="1380.63" y="1079.8" width="16.4" height="111.2" fill="#595959"/>
<rect x="1419.9" y="1189" width="16.4" height="2" fill="#595959"/>
<rect x="1459.17" y="1186.5" width="16.4" height="4.5" fill="#595959"/>
<path d="M898 1026.6V1191H1487M898 1191h5.2M898 1136.2h5.2M898 1081.4h5.2M898 1026.6h5.2M937.27 1191v-5.2M976.53 1191v-5.2M1015.8 1191v-5.2M1055.07 1191v-5.2M1094.33 1191v-5.2M1133.6 1191v-5.2M1172.87 1191v-5.2M1212.13 1191v-5.2M1251.4 1191v-5.2M1290.67 1191v-5.2M1329.93 1191v-5.2M1369.2 1191v-5.2M1408.47 1191v-5.2M1447.73 1191v-5.2M1487 1191v-5.2" stroke="#202020" stroke-width="1.35" fill="none"/>
<text x="801.92" y="1037" font-size="30.5" textLength="87.64" lengthAdjust="spacing">180.00</text>
<text x="841.44" y="1198" font-size="30.5" textLength="56.12" lengthAdjust="spacing">0.00</text>
<text x="902.86" y="1021.5" font-size="30.19" textLength="210.87" lengthAdjust="spacing">Content (mg/kg)</text>
<text x="1171.66" y="1018" font-size="30.19" textLength="37.25" lengthAdjust="spacing">Cu</text>
<text x="926.42" y="1050.8" font-size="27.5" font-weight="bold">h</text>
<text x="1141.58" y="1281" font-size="30.19" textLength="199.09" lengthAdjust="spacing">Sample number</text>
<text class="xl" transform="translate(916.86 1214.11) rotate(-45)" text-anchor="end" font-size="30.52">FB</text>
<text class="xl" transform="translate(954.16 1211.82) rotate(-45)" text-anchor="end" font-size="30.52">OL</text>
<text class="xl" transform="translate(992.88 1211.27) rotate(-45)" text-anchor="end" font-size="30.52">TB</text>
<text class="xl" transform="translate(1031.61 1212.58) rotate(-45)" text-anchor="end" font-size="30.52">SB</text>
<text class="xl" transform="translate(1074.33 1204.55) rotate(-45)" text-anchor="end" font-size="30.52">Tp<tspan font-size="17.44" dx="1.96" dy="6.54">30</tspan><tspan font-size="21.26" dy="1.2">~</tspan><tspan font-size="17.44" dy="-1.2">60</tspan></text>
<text class="xl" transform="translate(1120.57 1200.19) rotate(-45)" text-anchor="end" font-size="30.52">Tx<tspan font-size="17.44" dx="1.96" dy="6.54">30</tspan><tspan font-size="21.26" dy="1.2">~</tspan><tspan font-size="17.44" dy="-1.2">60</tspan></text>
<text class="xl" transform="translate(1153.51 1204) rotate(-45)" text-anchor="end" font-size="30.52">T<tspan font-size="17.44" dx="1.96" dy="6.54">0</tspan><tspan font-size="21.26" dy="1.2">~</tspan><tspan font-size="17.44" dy="-1.2">30</tspan></text>
<text class="xl" transform="translate(1192.89 1202.59) rotate(-45)" text-anchor="end" font-size="30.52">R<tspan font-size="17.44" dx="1.96" dy="6.54">0</tspan><tspan font-size="21.26" dy="1.2">~</tspan><tspan font-size="17.44" dy="-1.2">20</tspan></text>
<text class="xl" transform="translate(1237.5 1202.92) rotate(-45)" text-anchor="end" font-size="30.52">Rp<tspan font-size="17.44" dx="1.96" dy="6.54">20</tspan><tspan font-size="21.26" dy="1.2">~</tspan><tspan font-size="17.44" dy="-1.2">40</tspan></text>
<text class="xl" transform="translate(1274.69 1205.97) rotate(-45)" text-anchor="end" font-size="30.52">Rx<tspan font-size="17.44" dx="1.96" dy="6.54">20</tspan><tspan font-size="21.26" dy="1.2">~</tspan><tspan font-size="17.44" dy="-1.2">40</tspan></text>
<text class="xl" transform="translate(1317.12 1204.88) rotate(-45)" text-anchor="end" font-size="30.52">R<tspan font-size="17.44" dx="1.96" dy="6.54">40</tspan><tspan font-size="21.26" dy="1.2">~</tspan><tspan font-size="17.44" dy="-1.2">60</tspan></text>
<text class="xl" transform="translate(1357.91 1203.47) rotate(-45)" text-anchor="end" font-size="30.52">R<tspan font-size="17.44" dx="1.96" dy="6.54">60</tspan><tspan font-size="21.26" dy="1.2">~</tspan><tspan font-size="17.44" dy="-1.2">80</tspan></text>
<text class="xl" transform="translate(1401.21 1201.94) rotate(-45)" text-anchor="end" font-size="30.52">R<tspan font-size="17.44" dx="1.96" dy="6.54">80</tspan><tspan font-size="21.26" dy="1.2">~</tspan><tspan font-size="17.44" dy="-1.2">100</tspan></text>
<text class="xl" transform="translate(1441.57 1201.73) rotate(-45)" text-anchor="end" font-size="30.52">R<tspan font-size="17.44" dx="1.96" dy="6.54">100</tspan><tspan font-size="21.26" dy="1.2">~</tspan><tspan font-size="17.44" dy="-1.2">120</tspan></text>
<text class="xl" transform="translate(1481.16 1201.95) rotate(-45)" text-anchor="end" font-size="30.52">R<tspan font-size="17.44" dx="1.96" dy="6.54">120</tspan><tspan font-size="21.26" dy="1.2">~</tspan><tspan font-size="17.44" dy="-1.2">130</tspan></text>
<rect x="116.34" y="1484.5" width="14" height="14.5" fill="#d3d3d3"/>
<rect x="152.22" y="1493.75" width="14" height="5.25" fill="#d3d3d3"/>
<rect x="188.1" y="1490" width="14" height="9" fill="#d3d3d3"/>
<rect x="223.98" y="1495.75" width="14" height="3.25" fill="#d3d3d3"/>
<rect x="259.86" y="1496.5" width="14" height="2.5" fill="#d3d3d3"/>
<rect x="295.74" y="1495.75" width="14" height="3.25" fill="#d3d3d3"/>
<rect x="331.62" y="1493.75" width="14" height="5.25" fill="#d3d3d3"/>
<rect x="367.5" y="1493" width="14" height="6" fill="#d3d3d3"/>
<rect x="403.38" y="1495.75" width="14" height="3.25" fill="#d3d3d3"/>
<rect x="439.26" y="1467.25" width="14" height="31.75" fill="#d3d3d3"/>
<rect x="475.14" y="1495" width="14" height="4" fill="#d3d3d3"/>
<rect x="511.02" y="1497.75" width="14" height="1.25" fill="#d3d3d3"/>
<rect x="546.9" y="1496.5" width="14" height="2.5" fill="#d3d3d3"/>
<rect x="582.78" y="1498.5" width="14" height="0.5" fill="#d3d3d3"/>
<rect x="618.66" y="1497.75" width="14" height="1.25" fill="#d3d3d3"/>
<rect x="654.54" y="1481.25" width="14" height="17.75" fill="#d3d3d3"/>
<rect x="690.42" y="1497.75" width="14" height="1.25" fill="#d3d3d3"/>
<rect x="726.3" y="1498.5" width="14" height="0.5" fill="#d3d3d3"/>
<rect x="762.18" y="1353.5" width="14" height="145.5" fill="#d3d3d3"/>
<rect x="798.06" y="1337.5" width="14" height="161.5" fill="#d3d3d3"/>
<path d="M105.4 1328.1V1499H823M105.4 1499h5.2M105.4 1456.28h5.2M105.4 1413.55h5.2M105.4 1370.82h5.2M105.4 1328.1h5.2M141.28 1499v-5.2M177.16 1499v-5.2M213.04 1499v-5.2M248.92 1499v-5.2M284.8 1499v-5.2M320.68 1499v-5.2M356.56 1499v-5.2M392.44 1499v-5.2M428.32 1499v-5.2M464.2 1499v-5.2M500.08 1499v-5.2M535.96 1499v-5.2M571.84 1499v-5.2M607.72 1499v-5.2M643.6 1499v-5.2M679.48 1499v-5.2M715.36 1499v-5.2M751.24 1499v-5.2M787.12 1499v-5.2M823 1499v-5.2" stroke="#202020" stroke-width="1.35" fill="none"/>
<text x="15.32" y="1338.4" font-size="30.5" textLength="86.24" lengthAdjust="spacing">120.00</text>
<text x="30.29" y="1423.6" font-size="30.5" textLength="71.27" lengthAdjust="spacing">60.00</text>
<text x="46.44" y="1506.4" font-size="30.5" textLength="55.12" lengthAdjust="spacing">0.00</text>
<text x="107.66" y="1327.5" font-size="30.19" textLength="211.37" lengthAdjust="spacing">Content (mg/kg)</text>
<text x="405.43" y="1324.9" font-size="30.19" textLength="31.54" lengthAdjust="spacing">Ni</text>
<text x="131" y="1357.7" font-size="27.5" font-weight="bold">i</text>
<text x="345.58" y="1586.6" font-size="30.19" textLength="199.49" lengthAdjust="spacing">Sample number</text>
<text class="xl" transform="translate(114.9 1521.89) rotate(-45)" text-anchor="end" font-size="30.52">FB</text>
<text class="xl" transform="translate(146.75 1522.76) rotate(-45)" text-anchor="end" font-size="30.52">OL</text>
<text class="xl" transform="translate(185.14 1520.03) rotate(-45)" text-anchor="end" font-size="30.52">TB</text>
<text class="xl" transform="translate(219.27 1517.53) rotate(-45)" text-anchor="end" font-size="30.52">SB</text>
<text class="xl" transform="translate(254.29 1513.08) rotate(-45)" text-anchor="end" font-size="30.52">Tp<tspan font-size="17.44" dx="1.96" dy="6.54">30</tspan><tspan font-size="21.26" dy="1.2">~</tspan><tspan font-size="17.44" dy="-1.2">60</tspan></text>
<text class="xl" transform="translate(303.25 1503.59) rotate(-45)" text-anchor="end" font-size="30.52">Tx<tspan font-size="17.44" dx="1.96" dy="6.54">30</tspan><tspan font-size="21.26" dy="1.2">~</tspan><tspan font-size="17.44" dy="-1.2">60</tspan></text>
<text class="xl" transform="translate(335.64 1507.3) rotate(-45)" text-anchor="end" font-size="30.52">T<tspan font-size="17.44" dx="1.96" dy="6.54">0</tspan><tspan font-size="21.26" dy="1.2">~</tspan><tspan font-size="17.44" dy="-1.2">30</tspan></text>
<text class="xl" transform="translate(370.32 1508.61) rotate(-45)" text-anchor="end" font-size="30.52">R<tspan font-size="17.44" dx="1.96" dy="6.54">0</tspan><tspan font-size="21.26" dy="1.2">~</tspan><tspan font-size="17.44" dy="-1.2">10</tspan></text>
<text class="xl" transform="translate(409.15 1510.13) rotate(-45)" text-anchor="end" font-size="30.52">R<tspan font-size="17.44" dx="1.96" dy="6.54">10</tspan><tspan font-size="21.26" dy="1.2">~</tspan><tspan font-size="17.44" dy="-1.2">20</tspan></text>
<text class="xl" transform="translate(447.21 1508.72) rotate(-45)" text-anchor="end" font-size="30.52">Rp<tspan font-size="17.44" dx="1.96" dy="6.54">20</tspan><tspan font-size="21.26" dy="1.2">~</tspan><tspan font-size="17.44" dy="-1.2">30</tspan></text>
<text class="xl" transform="translate(481.56 1507.95) rotate(-45)" text-anchor="end" font-size="30.52">Rx<tspan font-size="17.44" dx="1.96" dy="6.54">20</tspan><tspan font-size="21.26" dy="1.2">~</tspan><tspan font-size="17.44" dy="-1.2">30</tspan></text>
<text class="xl" transform="translate(520.28 1505.77) rotate(-45)" text-anchor="end" font-size="30.52">R<tspan font-size="17.44" dx="1.96" dy="6.54">30</tspan><tspan font-size="21.26" dy="1.2">~</tspan><tspan font-size="17.44" dy="-1.2">40</tspan></text>
<text class="xl" transform="translate(556.59 1508.06) rotate(-45)" text-anchor="end" font-size="30.52">R<tspan font-size="17.44" dx="1.96" dy="6.54">40</tspan><tspan font-size="21.26" dy="1.2">~</tspan><tspan font-size="17.44" dy="-1.2">50</tspan></text>
<text class="xl" transform="translate(593.45 1508.72) rotate(-45)" text-anchor="end" font-size="30.52">R<tspan font-size="17.44" dx="1.96" dy="6.54">50</tspan><tspan font-size="21.26" dy="1.2">~</tspan><tspan font-size="17.44" dy="-1.2">60</tspan></text>
<text class="xl" transform="translate(630.86 1506.43) rotate(-45)" text-anchor="end" font-size="30.52">R<tspan font-size="17.44" dx="1.96" dy="6.54">60</tspan><tspan font-size="21.26" dy="1.2">~</tspan><tspan font-size="17.44" dy="-1.2">70</tspan></text>
<text class="xl" transform="translate(668.26 1507.19) rotate(-45)" text-anchor="end" font-size="30.52">R<tspan font-size="17.44" dx="1.96" dy="6.54">70</tspan><tspan font-size="21.26" dy="1.2">~</tspan><tspan font-size="17.44" dy="-1.2">80</tspan></text>
<text class="xl" transform="translate(703.38 1507.19) rotate(-45)" text-anchor="end" font-size="30.52">R<tspan font-size="17.44" dx="1.96" dy="6.54">80</tspan><tspan font-size="21.26" dy="1.2">~</tspan><tspan font-size="17.44" dy="-1.2">90</tspan></text>
<text class="xl" transform="translate(740.03 1509.37) rotate(-45)" text-anchor="end" font-size="30.52">R<tspan font-size="17.44" dx="1.96" dy="6.54">90</tspan><tspan font-size="21.26" dy="1.2">~</tspan><tspan font-size="17.44" dy="-1.2">110</tspan></text>
<text class="xl" transform="translate(777.32 1507.95) rotate(-45)" text-anchor="end" font-size="30.52">R<tspan font-size="17.44" dx="1.96" dy="6.54">110</tspan><tspan font-size="21.26" dy="1.2">~</tspan><tspan font-size="17.44" dy="-1.2">130</tspan></text>
<text class="xl" transform="translate(815.6 1508.72) rotate(-45)" text-anchor="end" font-size="30.52">R<tspan font-size="17.44" dx="1.96" dy="6.54">130</tspan><tspan font-size="21.26" dy="1.2">~</tspan><tspan font-size="17.44" dy="-1.2">140</tspan></text>
<rect x="910.88" y="1490" width="16.4" height="9" fill="#595959"/>
<rect x="950.23" y="1493.4" width="16.4" height="5.6" fill="#595959"/>
<rect x="989.58" y="1495" width="16.4" height="4" fill="#595959"/>
<rect x="1028.94" y="1495.6" width="16.4" height="3.4" fill="#595959"/>
<rect x="1068.29" y="1497.4" width="16.4" height="1.6" fill="#595959"/>
<rect x="1107.64" y="1497.9" width="16.4" height="1.1" fill="#595959"/>
<rect x="1147" y="1497.1" width="16.4" height="1.9" fill="#595959"/>
<rect x="1186.35" y="1496" width="16.4" height="3" fill="#595959"/>
<rect x="1225.7" y="1496.8" width="16.4" height="2.2" fill="#595959"/>
<rect x="1265.06" y="1498.2" width="16.4" height="0.8" fill="#595959"/>
<rect x="1304.41" y="1496.8" width="16.4" height="2.2" fill="#595959"/>
<rect x="1343.76" y="1495.2" width="16.4" height="3.8" fill="#595959"/>
<rect x="1383.12" y="1350.6" width="16.4" height="148.4" fill="#595959"/>
<rect x="1422.47" y="1496.8" width="16.4" height="2.2" fill="#595959"/>
<rect x="1461.82" y="1496" width="16.4" height="3" fill="#595959"/>
<path d="M899.4 1328V1499H1489.7M899.4 1499h5.2M899.4 1456.25h5.2M899.4 1413.5h5.2M899.4 1370.75h5.2M899.4 1328h5.2M938.75 1499v-5.2M978.11 1499v-5.2M1017.46 1499v-5.2M1056.81 1499v-5.2M1096.17 1499v-5.2M1135.52 1499v-5.2M1174.87 1499v-5.2M1214.23 1499v-5.2M1253.58 1499v-5.2M1292.93 1499v-5.2M1332.29 1499v-5.2M1371.64 1499v-5.2M1410.99 1499v-5.2M1450.35 1499v-5.2M1489.7 1499v-5.2" stroke="#202020" stroke-width="1.35" fill="none"/>
<text x="809.32" y="1338.4" font-size="30.5" textLength="86.24" lengthAdjust="spacing">120.00</text>
<text x="824.29" y="1423" font-size="30.5" textLength="71.27" lengthAdjust="spacing">60.00</text>
<text x="840.44" y="1506" font-size="30.5" textLength="54.12" lengthAdjust="spacing">0.00</text>
<text x="897.56" y="1329.7" font-size="30.19" textLength="210.17" lengthAdjust="spacing">Content (mg/kg)</text>
<text x="1173.43" y="1328.3" font-size="30.19" textLength="32.34" lengthAdjust="spacing">Ni</text>
<text x="924.63" y="1357.3" font-size="27.5" font-weight="bold">j</text>
<text x="1134.58" y="1588" font-size="30.19" textLength="199.09" lengthAdjust="spacing">Sample number</text>
<text class="xl" transform="translate(910.1 1519.91) rotate(-45)" text-anchor="end" font-size="30.52">FB</text>
<text class="xl" transform="translate(947.49 1517.62) rotate(-45)" text-anchor="end" font-size="30.52">OL</text>
<text class="xl" transform="translate(986.3 1517.07) rotate(-45)" text-anchor="end" font-size="30.52">TB</text>
<text class="xl" transform="translate(1025.11 1518.38) rotate(-45)" text-anchor="end" font-size="30.52">SB</text>
<text class="xl" transform="translate(1066.92 1511.85) rotate(-45)" text-anchor="end" font-size="30.52">Tp<tspan font-size="17.44" dx="1.96" dy="6.54">30</tspan><tspan font-size="21.26" dy="1.2">~</tspan><tspan font-size="17.44" dy="-1.2">60</tspan></text>
<text class="xl" transform="translate(1113.25 1507.49) rotate(-45)" text-anchor="end" font-size="30.52">Tx<tspan font-size="17.44" dx="1.96" dy="6.54">30</tspan><tspan font-size="21.26" dy="1.2">~</tspan><tspan font-size="17.44" dy="-1.2">60</tspan></text>
<text class="xl" transform="translate(1146.28 1511.3) rotate(-45)" text-anchor="end" font-size="30.52">T<tspan font-size="17.44" dx="1.96" dy="6.54">0</tspan><tspan font-size="21.26" dy="1.2">~</tspan><tspan font-size="17.44" dy="-1.2">30</tspan></text>
<text class="xl" transform="translate(1185.74 1509.97) rotate(-45)" text-anchor="end" font-size="30.52">R<tspan font-size="17.44" dx="1.96" dy="6.54">0</tspan><tspan font-size="21.26" dy="1.2">~</tspan><tspan font-size="17.44" dy="-1.2">20</tspan></text>
<text class="xl" transform="translate(1230.43 1510.38) rotate(-45)" text-anchor="end" font-size="30.52">Rp<tspan font-size="17.44" dx="1.96" dy="6.54">20</tspan><tspan font-size="21.26" dy="1.2">~</tspan><tspan font-size="17.44" dy="-1.2">40</tspan></text>
<text class="xl" transform="translate(1267.72 1513.51) rotate(-45)" text-anchor="end" font-size="30.52">Rx<tspan font-size="17.44" dx="1.96" dy="6.54">20</tspan><tspan font-size="21.26" dy="1.2">~</tspan><tspan font-size="17.44" dy="-1.2">40</tspan></text>
<text class="xl" transform="translate(1310.23 1512.5) rotate(-45)" text-anchor="end" font-size="30.52">R<tspan font-size="17.44" dx="1.96" dy="6.54">40</tspan><tspan font-size="21.26" dy="1.2">~</tspan><tspan font-size="17.44" dy="-1.2">60</tspan></text>
<text class="xl" transform="translate(1351.11 1511.17) rotate(-45)" text-anchor="end" font-size="30.52">R<tspan font-size="17.44" dx="1.96" dy="6.54">60</tspan><tspan font-size="21.26" dy="1.2">~</tspan><tspan font-size="17.44" dy="-1.2">80</tspan></text>
<text class="xl" transform="translate(1394.5 1509.72) rotate(-45)" text-anchor="end" font-size="30.52">R<tspan font-size="17.44" dx="1.96" dy="6.54">80</tspan><tspan font-size="21.26" dy="1.2">~</tspan><tspan font-size="17.44" dy="-1.2">100</tspan></text>
<text class="xl" transform="translate(1434.94 1509.59) rotate(-45)" text-anchor="end" font-size="30.52">R<tspan font-size="17.44" dx="1.96" dy="6.54">100</tspan><tspan font-size="21.26" dy="1.2">~</tspan><tspan font-size="17.44" dy="-1.2">120</tspan></text>
<text class="xl" transform="translate(1474.62 1509.89) rotate(-45)" text-anchor="end" font-size="30.52">R<tspan font-size="17.44" dx="1.96" dy="6.54">120</tspan><tspan font-size="21.26" dy="1.2">~</tspan><tspan font-size="17.44" dy="-1.2">130</tspan></text>
<rect x="145.94" y="1788.25" width="14" height="11.75" fill="#d3d3d3"/>
<rect x="181.9" y="1764.5" width="14" height="35.5" fill="#d3d3d3"/>
<rect x="217.86" y="1791.5" width="14" height="8.5" fill="#d3d3d3"/>
<rect x="253.82" y="1777.5" width="14" height="22.5" fill="#d3d3d3"/>
<rect x="289.78" y="1794.5" width="14" height="5.5" fill="#d3d3d3"/>
<rect x="325.74" y="1781.75" width="14" height="18.25" fill="#d3d3d3"/>
<rect x="361.7" y="1786.5" width="14" height="13.5" fill="#d3d3d3"/>
<rect x="397.66" y="1788.25" width="14" height="11.75" fill="#d3d3d3"/>
<rect x="433.62" y="1647.5" width="14" height="152.5" fill="#d3d3d3"/>
<rect x="469.58" y="1787.25" width="14" height="12.75" fill="#d3d3d3"/>
<rect x="505.54" y="1785" width="14" height="15" fill="#d3d3d3"/>
<rect x="541.5" y="1776.75" width="14" height="23.25" fill="#d3d3d3"/>
<rect x="577.46" y="1775.75" width="14" height="24.25" fill="#d3d3d3"/>
<rect x="613.42" y="1777.5" width="14" height="22.5" fill="#d3d3d3"/>
<rect x="649.38" y="1759" width="14" height="41" fill="#d3d3d3"/>
<rect x="685.34" y="1757.5" width="14" height="42.5" fill="#d3d3d3"/>
<rect x="721.3" y="1743.5" width="14" height="56.5" fill="#d3d3d3"/>
<rect x="757.26" y="1729.75" width="14" height="70.25" fill="#d3d3d3"/>
<rect x="793.22" y="1696" width="14" height="104" fill="#d3d3d3"/>
<path d="M99 1629.1V1800H818.2M99 1800h5.2M99 1765.82h5.2M99 1731.64h5.2M99 1697.46h5.2M99 1663.28h5.2M99 1629.1h5.2M134.96 1800v-5.2M170.92 1800v-5.2M206.88 1800v-5.2M242.84 1800v-5.2M278.8 1800v-5.2M314.76 1800v-5.2M350.72 1800v-5.2M386.68 1800v-5.2M422.64 1800v-5.2M458.6 1800v-5.2M494.56 1800v-5.2M530.52 1800v-5.2M566.48 1800v-5.2M602.44 1800v-5.2M638.4 1800v-5.2M674.36 1800v-5.2M710.32 1800v-5.2M746.28 1800v-5.2M782.24 1800v-5.2M818.2 1800v-5.2" stroke="#202020" stroke-width="1.35" fill="none"/>
<text x="6.18" y="1642.4" font-size="27.5" textLength="80.26" lengthAdjust="spacing">10.000</text>
<text x="20.02" y="1708" font-size="27.5" textLength="66.43" lengthAdjust="spacing">6.000</text>
<text x="23.55" y="1807" font-size="27.5" textLength="65.89" lengthAdjust="spacing">0.000</text>
<text x="101.96" y="1628.3" font-size="27.7" textLength="192.95" lengthAdjust="spacing">Content (mg/kg)</text>
<text x="400.1" y="1624.3" font-size="27.7" textLength="30.65" lengthAdjust="spacing">Pb</text>
<text x="122.92" y="1659.5" font-size="27.5" font-weight="bold">k</text>
<text x="340.15" y="1888" font-size="27.7" textLength="182.1" lengthAdjust="spacing">Sample number</text>
<text class="xl" transform="translate(106.58 1824.2) rotate(-45)" text-anchor="end" font-size="28">FB</text>
<text class="xl" transform="translate(138.84 1825) rotate(-45)" text-anchor="end" font-size="28">OL</text>
<text class="xl" transform="translate(177.1 1822.5) rotate(-45)" text-anchor="end" font-size="28">TB</text>
<text class="xl" transform="translate(211.46 1820.2) rotate(-45)" text-anchor="end" font-size="28">SB</text>
<text class="xl" transform="translate(245.32 1817.6) rotate(-45)" text-anchor="end" font-size="28">Tp<tspan font-size="16" dx="1.8" dy="6">30</tspan><tspan font-size="19.5" dy="1.1">~</tspan><tspan font-size="16" dy="-1.1">60</tspan></text>
<text class="xl" transform="translate(293.28 1808.9) rotate(-45)" text-anchor="end" font-size="28">Tx<tspan font-size="16" dx="1.8" dy="6">30</tspan><tspan font-size="19.5" dy="1.1">~</tspan><tspan font-size="16" dy="-1.1">60</tspan></text>
<text class="xl" transform="translate(326.04 1812.3) rotate(-45)" text-anchor="end" font-size="28">T<tspan font-size="16" dx="1.8" dy="6">0</tspan><tspan font-size="19.5" dy="1.1">~</tspan><tspan font-size="16" dy="-1.1">30</tspan></text>
<text class="xl" transform="translate(360.9 1813.5) rotate(-45)" text-anchor="end" font-size="28">R<tspan font-size="16" dx="1.8" dy="6">0</tspan><tspan font-size="19.5" dy="1.1">~</tspan><tspan font-size="16" dy="-1.1">10</tspan></text>
<text class="xl" transform="translate(399.56 1814.9) rotate(-45)" text-anchor="end" font-size="28">R<tspan font-size="16" dx="1.8" dy="6">10</tspan><tspan font-size="19.5" dy="1.1">~</tspan><tspan font-size="16" dy="-1.1">20</tspan></text>
<text class="xl" transform="translate(437.52 1813.6) rotate(-45)" text-anchor="end" font-size="28">Rp<tspan font-size="16" dx="1.8" dy="6">20</tspan><tspan font-size="19.5" dy="1.1">~</tspan><tspan font-size="16" dy="-1.1">30</tspan></text>
<text class="xl" transform="translate(472.08 1812.9) rotate(-45)" text-anchor="end" font-size="28">Rx<tspan font-size="16" dx="1.8" dy="6">20</tspan><tspan font-size="19.5" dy="1.1">~</tspan><tspan font-size="16" dy="-1.1">30</tspan></text>
<text class="xl" transform="translate(510.64 1810.9) rotate(-45)" text-anchor="end" font-size="28">R<tspan font-size="16" dx="1.8" dy="6">30</tspan><tspan font-size="19.5" dy="1.1">~</tspan><tspan font-size="16" dy="-1.1">40</tspan></text>
<text class="xl" transform="translate(547 1813) rotate(-45)" text-anchor="end" font-size="28">R<tspan font-size="16" dx="1.8" dy="6">40</tspan><tspan font-size="19.5" dy="1.1">~</tspan><tspan font-size="16" dy="-1.1">50</tspan></text>
<text class="xl" transform="translate(583.86 1813.6) rotate(-45)" text-anchor="end" font-size="28">R<tspan font-size="16" dx="1.8" dy="6">50</tspan><tspan font-size="19.5" dy="1.1">~</tspan><tspan font-size="16" dy="-1.1">60</tspan></text>
<text class="xl" transform="translate(621.22 1811.5) rotate(-45)" text-anchor="end" font-size="28">R<tspan font-size="16" dx="1.8" dy="6">60</tspan><tspan font-size="19.5" dy="1.1">~</tspan><tspan font-size="16" dy="-1.1">70</tspan></text>
<text class="xl" transform="translate(658.58 1812.2) rotate(-45)" text-anchor="end" font-size="28">R<tspan font-size="16" dx="1.8" dy="6">70</tspan><tspan font-size="19.5" dy="1.1">~</tspan><tspan font-size="16" dy="-1.1">80</tspan></text>
<text class="xl" transform="translate(693.84 1812.2) rotate(-45)" text-anchor="end" font-size="28">R<tspan font-size="16" dx="1.8" dy="6">80</tspan><tspan font-size="19.5" dy="1.1">~</tspan><tspan font-size="16" dy="-1.1">90</tspan></text>
<text class="xl" transform="translate(730.5 1814.2) rotate(-45)" text-anchor="end" font-size="28">R<tspan font-size="16" dx="1.8" dy="6">90</tspan><tspan font-size="19.5" dy="1.1">~</tspan><tspan font-size="16" dy="-1.1">110</tspan></text>
<text class="xl" transform="translate(767.76 1812.9) rotate(-45)" text-anchor="end" font-size="28">R<tspan font-size="16" dx="1.8" dy="6">110</tspan><tspan font-size="19.5" dy="1.1">~</tspan><tspan font-size="16" dy="-1.1">130</tspan></text>
<text class="xl" transform="translate(805.92 1813.6) rotate(-45)" text-anchor="end" font-size="28">R<tspan font-size="16" dx="1.8" dy="6">130</tspan><tspan font-size="19.5" dy="1.1">~</tspan><tspan font-size="16" dy="-1.1">140</tspan></text>
<rect x="907.09" y="1799.6" width="16.4" height="0.8" fill="#595959"/>
<rect x="946.46" y="1793" width="16.4" height="7.4" fill="#595959"/>
<rect x="985.83" y="1751" width="16.4" height="49.4" fill="#595959"/>
<rect x="1025.21" y="1785" width="16.4" height="15.4" fill="#595959"/>
<rect x="1064.58" y="1770.4" width="16.4" height="30" fill="#595959"/>
<rect x="1103.95" y="1786.7" width="16.4" height="13.7" fill="#595959"/>
<rect x="1143.33" y="1777.2" width="16.4" height="23.2" fill="#595959"/>
<rect x="1182.7" y="1773.1" width="16.4" height="27.3" fill="#595959"/>
<rect x="1222.07" y="1709.8" width="16.4" height="90.6" fill="#595959"/>
<rect x="1261.45" y="1779.3" width="16.4" height="21.1" fill="#595959"/>
<rect x="1300.82" y="1766.5" width="16.4" height="33.9" fill="#595959"/>
<rect x="1340.19" y="1767.3" width="16.4" height="33.1" fill="#595959"/>
<rect x="1379.57" y="1749.6" width="16.4" height="50.8" fill="#595959"/>
<rect x="1418.94" y="1767.3" width="16.4" height="33.1" fill="#595959"/>
<rect x="1458.31" y="1721.2" width="16.4" height="79.2" fill="#595959"/>
<path d="M895.6 1629.6V1800.4H1486.2M895.6 1800.4h5.2M895.6 1766.24h5.2M895.6 1732.08h5.2M895.6 1697.92h5.2M895.6 1663.76h5.2M895.6 1629.6h5.2M934.97 1800.4v-5.2M974.35 1800.4v-5.2M1013.72 1800.4v-5.2M1053.09 1800.4v-5.2M1092.47 1800.4v-5.2M1131.84 1800.4v-5.2M1171.21 1800.4v-5.2M1210.59 1800.4v-5.2M1249.96 1800.4v-5.2M1289.33 1800.4v-5.2M1328.71 1800.4v-5.2M1368.08 1800.4v-5.2M1407.45 1800.4v-5.2M1446.83 1800.4v-5.2M1486.2 1800.4v-5.2" stroke="#202020" stroke-width="1.35" fill="none"/>
<text x="807.18" y="1642.4" font-size="27.5" textLength="80.26" lengthAdjust="spacing">10.000</text>
<text x="821.42" y="1708" font-size="27.5" textLength="66.43" lengthAdjust="spacing">6.000</text>
<text x="824.55" y="1807" font-size="27.5" textLength="64.89" lengthAdjust="spacing">0.000</text>
<text x="897.66" y="1629.7" font-size="27.7" textLength="193.25" lengthAdjust="spacing">Content (mg/kg)</text>
<text x="1170.8" y="1627.5" font-size="27.7" textLength="30.65" lengthAdjust="spacing">Pb</text>
<text x="920.36" y="1657.7" font-size="27.5" font-weight="bold">l</text>
<text x="1136.15" y="1889.4" font-size="27.7" textLength="182.1" lengthAdjust="spacing">Sample number</text>
<text class="xl" transform="translate(909.79 1823.1) rotate(-45)" text-anchor="end" font-size="28">FB</text>
<text class="xl" transform="translate(947.36 1821) rotate(-45)" text-anchor="end" font-size="28">OL</text>
<text class="xl" transform="translate(986.23 1820.5) rotate(-45)" text-anchor="end" font-size="28">TB</text>
<text class="xl" transform="translate(1025.11 1821.7) rotate(-45)" text-anchor="end" font-size="28">SB</text>
<text class="xl" transform="translate(1064.18 1817.7) rotate(-45)" text-anchor="end" font-size="28">Tp<tspan font-size="16" dx="1.8" dy="6">30</tspan><tspan font-size="19.5" dy="1.1">~</tspan><tspan font-size="16" dy="-1.1">60</tspan></text>
<text class="xl" transform="translate(1109.95 1813.7) rotate(-45)" text-anchor="end" font-size="28">Tx<tspan font-size="16" dx="1.8" dy="6">30</tspan><tspan font-size="19.5" dy="1.1">~</tspan><tspan font-size="16" dy="-1.1">60</tspan></text>
<text class="xl" transform="translate(1143.53 1817.2) rotate(-45)" text-anchor="end" font-size="28">T<tspan font-size="16" dx="1.8" dy="6">0</tspan><tspan font-size="19.5" dy="1.1">~</tspan><tspan font-size="16" dy="-1.1">30</tspan></text>
<text class="xl" transform="translate(1183 1815.7) rotate(-45)" text-anchor="end" font-size="28">R<tspan font-size="16" dx="1.8" dy="6">0</tspan><tspan font-size="19.5" dy="1.1">~</tspan><tspan font-size="16" dy="-1.1">20</tspan></text>
<text class="xl" transform="translate(1227.27 1815.8) rotate(-45)" text-anchor="end" font-size="28">Rp<tspan font-size="16" dx="1.8" dy="6">20</tspan><tspan font-size="19.5" dy="1.1">~</tspan><tspan font-size="16" dy="-1.1">40</tspan></text>
<text class="xl" transform="translate(1264.75 1818.4) rotate(-45)" text-anchor="end" font-size="28">Rx<tspan font-size="16" dx="1.8" dy="6">20</tspan><tspan font-size="19.5" dy="1.1">~</tspan><tspan font-size="16" dy="-1.1">40</tspan></text>
<text class="xl" transform="translate(1307.02 1817.2) rotate(-45)" text-anchor="end" font-size="28">R<tspan font-size="16" dx="1.8" dy="6">40</tspan><tspan font-size="19.5" dy="1.1">~</tspan><tspan font-size="16" dy="-1.1">60</tspan></text>
<text class="xl" transform="translate(1347.79 1815.7) rotate(-45)" text-anchor="end" font-size="28">R<tspan font-size="16" dx="1.8" dy="6">60</tspan><tspan font-size="19.5" dy="1.1">~</tspan><tspan font-size="16" dy="-1.1">80</tspan></text>
<text class="xl" transform="translate(1390.87 1814.1) rotate(-45)" text-anchor="end" font-size="28">R<tspan font-size="16" dx="1.8" dy="6">80</tspan><tspan font-size="19.5" dy="1.1">~</tspan><tspan font-size="16" dy="-1.1">100</tspan></text>
<text class="xl" transform="translate(1431.24 1813.7) rotate(-45)" text-anchor="end" font-size="28">R<tspan font-size="16" dx="1.8" dy="6">100</tspan><tspan font-size="19.5" dy="1.1">~</tspan><tspan font-size="16" dy="-1.1">120</tspan></text>
<text class="xl" transform="translate(1470.91 1813.7) rotate(-45)" text-anchor="end" font-size="28">R<tspan font-size="16" dx="1.8" dy="6">120</tspan><tspan font-size="19.5" dy="1.1">~</tspan><tspan font-size="16" dy="-1.1">130</tspan></text>
<rect x="117.56" y="2068" width="14" height="40.5" fill="#d3d3d3"/>
<rect x="153.48" y="2088" width="14" height="20.5" fill="#d3d3d3"/>
<rect x="189.4" y="2057.5" width="14" height="51" fill="#d3d3d3"/>
<rect x="225.32" y="2090.5" width="14" height="18" fill="#d3d3d3"/>
<rect x="261.24" y="2060" width="14" height="48.5" fill="#d3d3d3"/>
<rect x="297.16" y="2101.25" width="14" height="7.25" fill="#d3d3d3"/>
<rect x="333.08" y="2039" width="14" height="69.5" fill="#d3d3d3"/>
<rect x="369" y="2087.25" width="14" height="21.25" fill="#d3d3d3"/>
<rect x="404.92" y="2098.75" width="14" height="9.75" fill="#d3d3d3"/>
<rect x="440.84" y="2057.5" width="14" height="51" fill="#d3d3d3"/>
<rect x="476.76" y="2103" width="14" height="5.5" fill="#d3d3d3"/>
<rect x="512.68" y="2099.75" width="14" height="8.75" fill="#d3d3d3"/>
<rect x="548.6" y="2101.5" width="14" height="7" fill="#d3d3d3"/>
<rect x="584.52" y="2102.25" width="14" height="6.25" fill="#d3d3d3"/>
<rect x="620.44" y="2102.25" width="14" height="6.25" fill="#d3d3d3"/>
<rect x="656.36" y="2097.25" width="14" height="11.25" fill="#d3d3d3"/>
<rect x="692.28" y="2089" width="14" height="19.5" fill="#d3d3d3"/>
<rect x="728.2" y="2095.75" width="14" height="12.75" fill="#d3d3d3"/>
<rect x="764.12" y="2091.5" width="14" height="17" fill="#d3d3d3"/>
<rect x="800.04" y="2093.25" width="14" height="15.25" fill="#d3d3d3"/>
<path d="M106.6 1937.5V2108.5H825M106.6 2108.5h5.2M106.6 2065.75h5.2M106.6 2023h5.2M106.6 1980.25h5.2M106.6 1937.5h5.2M142.52 2108.5v-5.2M178.44 2108.5v-5.2M214.36 2108.5v-5.2M250.28 2108.5v-5.2M286.2 2108.5v-5.2M322.12 2108.5v-5.2M358.04 2108.5v-5.2M393.96 2108.5v-5.2M429.88 2108.5v-5.2M465.8 2108.5v-5.2M501.72 2108.5v-5.2M537.64 2108.5v-5.2M573.56 2108.5v-5.2M609.48 2108.5v-5.2M645.4 2108.5v-5.2M681.32 2108.5v-5.2M717.24 2108.5v-5.2M753.16 2108.5v-5.2M789.08 2108.5v-5.2M825 2108.5v-5.2" stroke="#202020" stroke-width="1.35" fill="none"/>
<text x="31.32" y="1952" font-size="30.5" textLength="69.24" lengthAdjust="spacing">120.0</text>
<text x="42.69" y="2033.6" font-size="30.5" textLength="57.27" lengthAdjust="spacing">60.0</text>
<text x="61.44" y="2116" font-size="30.5" textLength="39.12" lengthAdjust="spacing">0.0</text>
<text x="114.36" y="1941" font-size="30.19" textLength="211.37" lengthAdjust="spacing">Content (mg/kg)</text>
<text x="405.66" y="1933.8" font-size="30.19" textLength="35.7" lengthAdjust="spacing">Zn</text>
<text x="136.16" y="1969.5" font-size="27.5" font-weight="bold">m</text>
<text x="352.58" y="2200" font-size="30.19" textLength="198.49" lengthAdjust="spacing">Sample number</text>
<text class="xl" transform="translate(122.02 2133.79) rotate(-45)" text-anchor="end" font-size="30.52">FB</text>
<text class="xl" transform="translate(153.91 2134.66) rotate(-45)" text-anchor="end" font-size="30.52">OL</text>
<text class="xl" transform="translate(192.34 2131.93) rotate(-45)" text-anchor="end" font-size="30.52">TB</text>
<text class="xl" transform="translate(226.51 2129.43) rotate(-45)" text-anchor="end" font-size="30.52">SB</text>
<text class="xl" transform="translate(261.67 2125.68) rotate(-45)" text-anchor="end" font-size="30.52">Tp<tspan font-size="17.44" dx="1.96" dy="6.54">30</tspan><tspan font-size="21.26" dy="1.2">~</tspan><tspan font-size="17.44" dy="-1.2">60</tspan></text>
<text class="xl" transform="translate(310.67 2116.19) rotate(-45)" text-anchor="end" font-size="30.52">Tx<tspan font-size="17.44" dx="1.96" dy="6.54">30</tspan><tspan font-size="21.26" dy="1.2">~</tspan><tspan font-size="17.44" dy="-1.2">60</tspan></text>
<text class="xl" transform="translate(343.1 2119.9) rotate(-45)" text-anchor="end" font-size="30.52">T<tspan font-size="17.44" dx="1.96" dy="6.54">0</tspan><tspan font-size="21.26" dy="1.2">~</tspan><tspan font-size="17.44" dy="-1.2">30</tspan></text>
<text class="xl" transform="translate(377.82 2121.21) rotate(-45)" text-anchor="end" font-size="30.52">R<tspan font-size="17.44" dx="1.96" dy="6.54">0</tspan><tspan font-size="21.26" dy="1.2">~</tspan><tspan font-size="17.44" dy="-1.2">10</tspan></text>
<text class="xl" transform="translate(416.69 2122.73) rotate(-45)" text-anchor="end" font-size="30.52">R<tspan font-size="17.44" dx="1.96" dy="6.54">10</tspan><tspan font-size="21.26" dy="1.2">~</tspan><tspan font-size="17.44" dy="-1.2">20</tspan></text>
<text class="xl" transform="translate(454.79 2121.32) rotate(-45)" text-anchor="end" font-size="30.52">Rp<tspan font-size="17.44" dx="1.96" dy="6.54">20</tspan><tspan font-size="21.26" dy="1.2">~</tspan><tspan font-size="17.44" dy="-1.2">30</tspan></text>
<text class="xl" transform="translate(489.18 2120.55) rotate(-45)" text-anchor="end" font-size="30.52">Rx<tspan font-size="17.44" dx="1.96" dy="6.54">20</tspan><tspan font-size="21.26" dy="1.2">~</tspan><tspan font-size="17.44" dy="-1.2">30</tspan></text>
<text class="xl" transform="translate(527.94 2118.37) rotate(-45)" text-anchor="end" font-size="30.52">R<tspan font-size="17.44" dx="1.96" dy="6.54">30</tspan><tspan font-size="21.26" dy="1.2">~</tspan><tspan font-size="17.44" dy="-1.2">40</tspan></text>
<text class="xl" transform="translate(564.29 2120.66) rotate(-45)" text-anchor="end" font-size="30.52">R<tspan font-size="17.44" dx="1.96" dy="6.54">40</tspan><tspan font-size="21.26" dy="1.2">~</tspan><tspan font-size="17.44" dy="-1.2">50</tspan></text>
<text class="xl" transform="translate(601.19 2121.32) rotate(-45)" text-anchor="end" font-size="30.52">R<tspan font-size="17.44" dx="1.96" dy="6.54">50</tspan><tspan font-size="21.26" dy="1.2">~</tspan><tspan font-size="17.44" dy="-1.2">60</tspan></text>
<text class="xl" transform="translate(638.64 2119.03) rotate(-45)" text-anchor="end" font-size="30.52">R<tspan font-size="17.44" dx="1.96" dy="6.54">60</tspan><tspan font-size="21.26" dy="1.2">~</tspan><tspan font-size="17.44" dy="-1.2">70</tspan></text>
<text class="xl" transform="translate(676.09 2119.79) rotate(-45)" text-anchor="end" font-size="30.52">R<tspan font-size="17.44" dx="1.96" dy="6.54">70</tspan><tspan font-size="21.26" dy="1.2">~</tspan><tspan font-size="17.44" dy="-1.2">80</tspan></text>
<text class="xl" transform="translate(711.24 2119.79) rotate(-45)" text-anchor="end" font-size="30.52">R<tspan font-size="17.44" dx="1.96" dy="6.54">80</tspan><tspan font-size="21.26" dy="1.2">~</tspan><tspan font-size="17.44" dy="-1.2">90</tspan></text>
<text class="xl" transform="translate(747.93 2121.97) rotate(-45)" text-anchor="end" font-size="30.52">R<tspan font-size="17.44" dx="1.96" dy="6.54">90</tspan><tspan font-size="21.26" dy="1.2">~</tspan><tspan font-size="17.44" dy="-1.2">110</tspan></text>
<text class="xl" transform="translate(785.26 2120.55) rotate(-45)" text-anchor="end" font-size="30.52">R<tspan font-size="17.44" dx="1.96" dy="6.54">110</tspan><tspan font-size="21.26" dy="1.2">~</tspan><tspan font-size="17.44" dy="-1.2">130</tspan></text>
<text class="xl" transform="translate(823.58 2121.32) rotate(-45)" text-anchor="end" font-size="30.52">R<tspan font-size="17.44" dx="1.96" dy="6.54">130</tspan><tspan font-size="21.26" dy="1.2">~</tspan><tspan font-size="17.44" dy="-1.2">140</tspan></text>
<rect x="909.82" y="2068.4" width="16.4" height="40.3" fill="#595959"/>
<rect x="949.06" y="2087.6" width="16.4" height="21.1" fill="#595959"/>
<rect x="988.3" y="2043" width="16.4" height="65.7" fill="#595959"/>
<rect x="1027.54" y="2065" width="16.4" height="43.7" fill="#595959"/>
<rect x="1066.78" y="1999.6" width="16.4" height="109.1" fill="#595959"/>
<rect x="1106.02" y="2093.4" width="16.4" height="15.3" fill="#595959"/>
<rect x="1145.26" y="1964.7" width="16.4" height="144" fill="#595959"/>
<rect x="1184.5" y="2087.7" width="16.4" height="21" fill="#595959"/>
<rect x="1223.74" y="2042.1" width="16.4" height="66.6" fill="#595959"/>
<rect x="1262.98" y="2100.8" width="16.4" height="7.9" fill="#595959"/>
<rect x="1302.22" y="2086.1" width="16.4" height="22.6" fill="#595959"/>
<rect x="1341.46" y="2095.9" width="16.4" height="12.8" fill="#595959"/>
<rect x="1380.7" y="2091.8" width="16.4" height="16.9" fill="#595959"/>
<rect x="1419.94" y="2091" width="16.4" height="17.7" fill="#595959"/>
<rect x="1459.18" y="2091" width="16.4" height="17.7" fill="#595959"/>
<path d="M898.4 1937.4V2108.7H1487M898.4 2108.7h5.2M898.4 2065.88h5.2M898.4 2023.05h5.2M898.4 1980.22h5.2M898.4 1937.4h5.2M937.64 2108.7v-5.2M976.88 2108.7v-5.2M1016.12 2108.7v-5.2M1055.36 2108.7v-5.2M1094.6 2108.7v-5.2M1133.84 2108.7v-5.2M1173.08 2108.7v-5.2M1212.32 2108.7v-5.2M1251.56 2108.7v-5.2M1290.8 2108.7v-5.2M1330.04 2108.7v-5.2M1369.28 2108.7v-5.2M1408.52 2108.7v-5.2M1447.76 2108.7v-5.2M1487 2108.7v-5.2" stroke="#202020" stroke-width="1.35" fill="none"/>
<text x="824.52" y="1951.6" font-size="30.5" textLength="71.04" lengthAdjust="spacing">120.0</text>
<text x="836.29" y="2033.6" font-size="30.5" textLength="58.27" lengthAdjust="spacing">60.0</text>
<text x="855.44" y="2116" font-size="30.5" textLength="40.12" lengthAdjust="spacing">0.0</text>
<text x="902.86" y="1942.3" font-size="30.19" textLength="210.87" lengthAdjust="spacing">Content (mg/kg)</text>
<text x="1171.46" y="1937" font-size="30.19" textLength="36.1" lengthAdjust="spacing">Zn</text>
<text x="925.56" y="1966.9" font-size="27.5" font-weight="bold">n</text>
<text x="1141.58" y="2201.4" font-size="30.19" textLength="199.09" lengthAdjust="spacing">Sample number</text>
<text class="xl" transform="translate(917.44 2132.81) rotate(-45)" text-anchor="end" font-size="30.52">FB</text>
<text class="xl" transform="translate(954.72 2130.52) rotate(-45)" text-anchor="end" font-size="30.52">OL</text>
<text class="xl" transform="translate(993.42 2129.97) rotate(-45)" text-anchor="end" font-size="30.52">TB</text>
<text class="xl" transform="translate(1032.11 2131.28) rotate(-45)" text-anchor="end" font-size="30.52">SB</text>
<text class="xl" transform="translate(1073.91 2123.25) rotate(-45)" text-anchor="end" font-size="30.52">Tp<tspan font-size="17.44" dx="1.96" dy="6.54">30</tspan><tspan font-size="21.26" dy="1.2">~</tspan><tspan font-size="17.44" dy="-1.2">60</tspan></text>
<text class="xl" transform="translate(1120.12 2118.89) rotate(-45)" text-anchor="end" font-size="30.52">Tx<tspan font-size="17.44" dx="1.96" dy="6.54">30</tspan><tspan font-size="21.26" dy="1.2">~</tspan><tspan font-size="17.44" dy="-1.2">60</tspan></text>
<text class="xl" transform="translate(1153.04 2122.7) rotate(-45)" text-anchor="end" font-size="30.52">T<tspan font-size="17.44" dx="1.96" dy="6.54">0</tspan><tspan font-size="21.26" dy="1.2">~</tspan><tspan font-size="17.44" dy="-1.2">30</tspan></text>
<text class="xl" transform="translate(1192.39 2121.52) rotate(-45)" text-anchor="end" font-size="30.52">R<tspan font-size="17.44" dx="1.96" dy="6.54">0</tspan><tspan font-size="21.26" dy="1.2">~</tspan><tspan font-size="17.44" dy="-1.2">20</tspan></text>
<text class="xl" transform="translate(1236.97 2122.08) rotate(-45)" text-anchor="end" font-size="30.52">Rp<tspan font-size="17.44" dx="1.96" dy="6.54">20</tspan><tspan font-size="21.26" dy="1.2">~</tspan><tspan font-size="17.44" dy="-1.2">40</tspan></text>
<text class="xl" transform="translate(1274.14 2125.36) rotate(-45)" text-anchor="end" font-size="30.52">Rx<tspan font-size="17.44" dx="1.96" dy="6.54">20</tspan><tspan font-size="21.26" dy="1.2">~</tspan><tspan font-size="17.44" dy="-1.2">40</tspan></text>
<text class="xl" transform="translate(1316.54 2124.5) rotate(-45)" text-anchor="end" font-size="30.52">R<tspan font-size="17.44" dx="1.96" dy="6.54">40</tspan><tspan font-size="21.26" dy="1.2">~</tspan><tspan font-size="17.44" dy="-1.2">60</tspan></text>
<text class="xl" transform="translate(1357.31 2123.32) rotate(-45)" text-anchor="end" font-size="30.52">R<tspan font-size="17.44" dx="1.96" dy="6.54">60</tspan><tspan font-size="21.26" dy="1.2">~</tspan><tspan font-size="17.44" dy="-1.2">80</tspan></text>
<text class="xl" transform="translate(1400.58 2122.02) rotate(-45)" text-anchor="end" font-size="30.52">R<tspan font-size="17.44" dx="1.96" dy="6.54">80</tspan><tspan font-size="21.26" dy="1.2">~</tspan><tspan font-size="17.44" dy="-1.2">100</tspan></text>
<text class="xl" transform="translate(1440.91 2122.04) rotate(-45)" text-anchor="end" font-size="30.52">R<tspan font-size="17.44" dx="1.96" dy="6.54">100</tspan><tspan font-size="21.26" dy="1.2">~</tspan><tspan font-size="17.44" dy="-1.2">120</tspan></text>
<text class="xl" transform="translate(1480.48 2122.49) rotate(-45)" text-anchor="end" font-size="30.52">R<tspan font-size="17.44" dx="1.96" dy="6.54">120</tspan><tspan font-size="21.26" dy="1.2">~</tspan><tspan font-size="17.44" dy="-1.2">130</tspan></text>
</svg></body></html>
